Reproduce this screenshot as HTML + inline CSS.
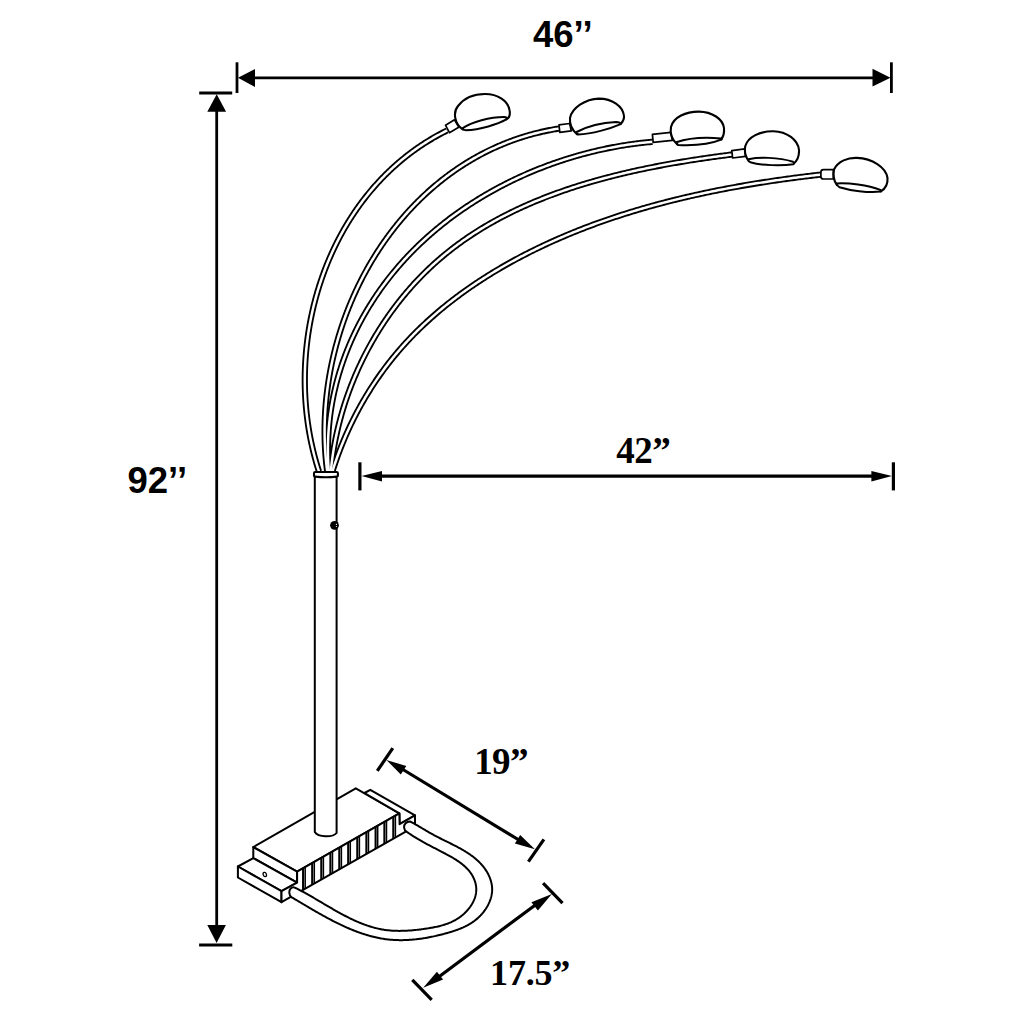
<!DOCTYPE html>
<html><head><meta charset="utf-8"><style>
html,body{margin:0;padding:0;background:#fff;width:1024px;height:1024px;overflow:hidden}
svg{display:block}
</style></head><body>
<svg width="1024" height="1024" viewBox="0 0 1024 1024">
<rect width="1024" height="1024" fill="#fff"/>
<line x1="237" y1="62.3" x2="237" y2="93" stroke="#000" stroke-width="2.8" fill="none"/><line x1="891.4" y1="62.3" x2="891.4" y2="93" stroke="#000" stroke-width="2.8" fill="none"/><line x1="250" y1="77.8" x2="878" y2="77.8" stroke="#000" stroke-width="2.8" fill="none"/><polygon points="238,77.8 255,68.9 255,86.9" fill="#000"/><polygon points="890.5,77.8 872.5,68.8 872.5,86.6" fill="#000"/><line x1="199.2" y1="93" x2="232.2" y2="93" stroke="#000" stroke-width="2.8" fill="none"/><line x1="199.1" y1="945" x2="232.3" y2="945" stroke="#000" stroke-width="2.8" fill="none"/><line x1="216.7" y1="106" x2="216.7" y2="930" stroke="#000" stroke-width="2.8" fill="none"/><polygon points="216.7,94.2 207.3,111.8 226.1,111.8" fill="#000"/><polygon points="216.6,943 207.3,924.9 225.9,924.9" fill="#000"/><line x1="359.9" y1="462.3" x2="359.9" y2="490.4" stroke="#000" stroke-width="3.2" fill="none"/><line x1="893.4" y1="462.3" x2="893.4" y2="490.4" stroke="#000" stroke-width="3.2" fill="none"/><line x1="375" y1="476.1" x2="878" y2="476.1" stroke="#000" stroke-width="3.2" fill="none"/><polygon points="361.5,476.1 382,471.1 382,481.6" fill="#000"/><polygon points="892,476.1 871.4,471.1 871.4,481.6" fill="#000"/><line x1="392.8" y1="748.2" x2="377.3" y2="770.8" stroke="#000" stroke-width="3.2" fill="none"/><line x1="543.9" y1="839.3" x2="528.4" y2="861.6" stroke="#000" stroke-width="3.2" fill="none"/><line x1="398" y1="766.5" x2="523" y2="842.5" stroke="#000" stroke-width="3.2" fill="none"/><polygon points="386.4,759.9 406.3,766.1 400.8,774.6" fill="#000"/><polygon points="534.9,849.3 520.2,834.9 514.9,843.4" fill="#000"/><line x1="543.1" y1="883.2" x2="562.5" y2="903.1" stroke="#000" stroke-width="3.2" fill="none"/><line x1="412.3" y1="979.9" x2="431.7" y2="999.8" stroke="#000" stroke-width="3.2" fill="none"/><line x1="538" y1="903" x2="436" y2="979" stroke="#000" stroke-width="3.2" fill="none"/><polygon points="551.9,894 531.4,902.2 537.9,910.4" fill="#000"/><polygon points="423.2,987.8 436.9,971.7 443.1,979.6" fill="#000"/>
<text x="533" y="46.9" font-family="&quot;Liberation Sans&quot;, sans-serif" font-weight="bold" font-size="36.5" letter-spacing="0" fill="#000">46’’</text><text x="127.5" y="493" font-family="&quot;Liberation Sans&quot;, sans-serif" font-weight="bold" font-size="36.5" letter-spacing="0" fill="#000">92’’</text><text x="616.3" y="463" font-family="&quot;Liberation Serif&quot;, serif" font-weight="bold" font-size="37" letter-spacing="-0.5" fill="#000">42”</text><text x="474.2" y="774" font-family="&quot;Liberation Serif&quot;, serif" font-weight="bold" font-size="37" letter-spacing="-0.6" fill="#000">19”</text><text x="490.1" y="985.4" font-family="&quot;Liberation Serif&quot;, serif" font-weight="bold" font-size="36" letter-spacing="-0.2" fill="#000">17.5”</text>
<path d="M 253.3 847.1 L 297.1 871.6 L 399.4 813.4 L 355.8 788.3 Z" fill="#fff" stroke="#000" stroke-width="2" stroke-linejoin="round"/><path d="M 253.3 847.1 L 297.1 871.6 L 297.1 882.7 L 253.3 858.1 Z" fill="#fff" stroke="#000" stroke-width="2" stroke-linejoin="round"/><path d="M 253.3 858.1 L 237.9 866.5 L 281.5 891.2 L 297.1 882.7 Z" fill="#fff" stroke="#000" stroke-width="2" stroke-linejoin="round"/><path d="M 237.9 866.5 L 237.9 877.5 L 281.5 902.2 L 281.5 891.2 Z" fill="#fff" stroke="#000" stroke-width="2" stroke-linejoin="round"/><path d="M 364.5 793.0 L 370.3 789.8 L 415.0 815.4 L 399.6 824.2 L 399.4 813.4 Z" fill="#fff" stroke="#000" stroke-width="2" stroke-linejoin="round"/><path d="M 281.5 891.2 L 297.1 882.7 L 297.1 871.6 L 399.4 813.4 L 399.6 824.2 L 415.0 815.4 L 415.0 826.4 L 281.5 902.2 Z" fill="#fff" stroke="#000" stroke-width="2" stroke-linejoin="round"/><line x1="303.1" y1="868.2" x2="303.1" y2="889.9" stroke="#000" stroke-width="2.1"/><line x1="305.2" y1="867.0" x2="305.2" y2="888.7" stroke="#000" stroke-width="1.5"/><line x1="312.2" y1="863.0" x2="312.2" y2="884.8" stroke="#000" stroke-width="2.1"/><line x1="314.3" y1="861.8" x2="314.3" y2="883.6" stroke="#000" stroke-width="1.5"/><line x1="321.3" y1="857.8" x2="321.3" y2="879.6" stroke="#000" stroke-width="2.1"/><line x1="323.4" y1="856.6" x2="323.4" y2="878.4" stroke="#000" stroke-width="1.5"/><line x1="330.4" y1="852.7" x2="330.4" y2="874.4" stroke="#000" stroke-width="2.1"/><line x1="332.5" y1="851.5" x2="332.5" y2="873.2" stroke="#000" stroke-width="1.5"/><line x1="339.3" y1="847.6" x2="339.3" y2="869.4" stroke="#000" stroke-width="2.1"/><line x1="341.4" y1="846.4" x2="341.4" y2="868.2" stroke="#000" stroke-width="1.5"/><line x1="348.2" y1="842.5" x2="348.2" y2="864.3" stroke="#000" stroke-width="2.1"/><line x1="350.3" y1="841.3" x2="350.3" y2="863.1" stroke="#000" stroke-width="1.5"/><line x1="357.3" y1="837.4" x2="357.3" y2="859.2" stroke="#000" stroke-width="2.1"/><line x1="359.4" y1="836.2" x2="359.4" y2="858.0" stroke="#000" stroke-width="1.5"/><line x1="366.4" y1="832.2" x2="366.4" y2="854.0" stroke="#000" stroke-width="2.1"/><line x1="368.5" y1="831.0" x2="368.5" y2="852.8" stroke="#000" stroke-width="1.5"/><line x1="375.6" y1="826.9" x2="375.6" y2="848.8" stroke="#000" stroke-width="2.1"/><line x1="377.7" y1="825.7" x2="377.7" y2="847.6" stroke="#000" stroke-width="1.5"/><line x1="384.4" y1="821.9" x2="384.4" y2="843.8" stroke="#000" stroke-width="2.1"/><line x1="386.5" y1="820.7" x2="386.5" y2="842.6" stroke="#000" stroke-width="1.5"/><line x1="393.3" y1="816.9" x2="393.3" y2="838.7" stroke="#000" stroke-width="2.1"/><line x1="395.4" y1="815.7" x2="395.4" y2="837.5" stroke="#000" stroke-width="1.5"/><ellipse cx="264.8" cy="874.5" rx="1.6" ry="2.2" fill="#fff" stroke="#000" stroke-width="1.3" transform="rotate(-20 264.8 874.5)"/>
<path d="M 291.70 897.30 L 292.67 897.87 L 293.65 898.44 L 294.62 899.02 L 295.60 899.59 L 296.57 900.17 L 297.55 900.75 L 298.53 901.33 L 299.51 901.91 L 300.50 902.50 L 301.48 903.08 L 302.47 903.67 L 303.45 904.25 L 304.44 904.84 L 305.43 905.42 L 306.42 906.01 L 307.42 906.60 L 308.41 907.18 L 309.41 907.77 L 310.40 908.35 L 311.40 908.94 L 312.40 909.52 L 313.41 910.11 L 314.41 910.69 L 315.41 911.27 L 316.42 911.85 L 317.43 912.43 L 318.44 913.00 L 319.45 913.58 L 320.46 914.15 L 321.48 914.72 L 322.49 915.29 L 323.51 915.85 L 324.53 916.41 L 325.55 916.97 L 326.58 917.53 L 327.60 918.08 L 328.63 918.63 L 329.65 919.18 L 330.68 919.72 L 331.71 920.26 L 332.75 920.80 L 333.78 921.33 L 334.82 921.86 L 335.86 922.38 L 336.89 922.90 L 337.94 923.42 L 338.98 923.92 L 340.02 924.43 L 341.07 924.93 L 342.12 925.42 L 343.17 925.91 L 344.22 926.40 L 345.27 926.87 L 346.33 927.34 L 347.39 927.81 L 348.44 928.27 L 349.50 928.72 L 350.57 929.17 L 351.63 929.61 L 352.70 930.04 L 353.76 930.47 L 354.83 930.89 L 355.91 931.30 L 356.98 931.71 L 358.05 932.10 L 359.13 932.49 L 360.21 932.87 L 361.29 933.25 L 362.37 933.61 L 363.46 933.97 L 364.54 934.32 L 365.63 934.66 L 366.72 934.99 L 367.82 935.31 L 368.91 935.63 L 370.01 935.93 L 371.10 936.23 L 372.20 936.51 L 373.31 936.79 L 374.41 937.05 L 375.52 937.31 L 376.62 937.55 L 377.73 937.79 L 378.85 938.01 L 379.96 938.23 L 381.08 938.43 L 382.19 938.63 L 383.31 938.81 L 384.43 938.98 L 385.56 939.14 L 386.69 939.28 L 387.81 939.42 L 388.94 939.54 L 390.08 939.65 L 391.21 939.76 L 392.35 939.84 L 393.48 939.92 L 394.62 939.99 L 395.76 940.04 L 396.91 940.08 L 398.05 940.12 L 399.20 940.14 L 400.34 940.15 L 401.49 940.15 L 402.64 940.14 L 403.79 940.12 L 404.94 940.09 L 406.09 940.05 L 407.25 940.00 L 408.40 939.94 L 409.55 939.87 L 410.71 939.79 L 411.86 939.70 L 413.02 939.60 L 414.17 939.49 L 415.33 939.37 L 416.48 939.25 L 417.64 939.11 L 418.80 938.97 L 419.95 938.82 L 421.11 938.66 L 422.26 938.49 L 423.42 938.31 L 424.57 938.13 L 425.72 937.93 L 426.88 937.73 L 428.03 937.52 L 429.18 937.31 L 430.33 937.09 L 431.48 936.85 L 432.63 936.62 L 433.77 936.37 L 434.92 936.12 L 436.06 935.86 L 437.21 935.59 L 438.35 935.32 L 439.49 935.04 L 440.62 934.76 L 441.76 934.47 L 442.90 934.17 L 444.03 933.87 L 445.16 933.56 L 446.29 933.25 L 447.41 932.93 L 448.54 932.60 L 449.66 932.27 L 450.78 931.93 L 451.89 931.58 L 453.00 931.23 L 454.10 930.87 L 455.20 930.49 L 456.30 930.11 L 457.39 929.72 L 458.47 929.31 L 459.55 928.89 L 460.62 928.47 L 461.68 928.02 L 462.73 927.57 L 463.77 927.09 L 464.81 926.61 L 465.83 926.11 L 466.85 925.59 L 467.85 925.05 L 468.85 924.50 L 469.83 923.93 L 470.80 923.33 L 471.76 922.72 L 472.71 922.09 L 473.65 921.44 L 474.57 920.77 L 475.47 920.07 L 476.36 919.35 L 477.24 918.61 L 478.11 917.85 L 478.95 917.06 L 479.78 916.24 L 480.59 915.41 L 481.39 914.55 L 482.16 913.67 L 482.91 912.77 L 483.65 911.85 L 484.35 910.91 L 485.04 909.96 L 485.70 908.99 L 486.33 908.00 L 486.94 907.00 L 487.52 905.98 L 488.07 904.96 L 488.59 903.92 L 489.07 902.86 L 489.53 901.80 L 489.95 900.73 L 490.34 899.65 L 490.70 898.57 L 491.02 897.48 L 491.30 896.38 L 491.54 895.27 L 491.74 894.17 L 491.91 893.06 L 492.03 891.94 L 492.11 890.83 L 492.15 889.72 L 492.14 888.61 L 492.09 887.49 L 491.99 886.38 L 491.85 885.28 L 491.67 884.18 L 491.45 883.08 L 491.19 881.99 L 490.90 880.90 L 490.56 879.83 L 490.19 878.76 L 489.79 877.70 L 489.35 876.65 L 488.89 875.61 L 488.39 874.58 L 487.86 873.56 L 487.31 872.56 L 486.72 871.57 L 486.12 870.60 L 485.48 869.64 L 484.83 868.69 L 484.15 867.77 L 483.46 866.86 L 482.74 865.97 L 482.01 865.10 L 481.25 864.25 L 480.48 863.41 L 479.69 862.59 L 478.89 861.79 L 478.07 861.00 L 477.23 860.23 L 476.38 859.47 L 475.51 858.72 L 474.63 857.99 L 473.73 857.28 L 472.83 856.58 L 471.90 855.88 L 470.97 855.21 L 470.03 854.54 L 469.07 853.88 L 468.11 853.24 L 467.13 852.60 L 466.15 851.98 L 465.15 851.36 L 464.15 850.76 L 463.14 850.16 L 462.12 849.57 L 461.10 848.99 L 460.07 848.41 L 459.03 847.84 L 457.99 847.28 L 456.95 846.73 L 455.90 846.17 L 454.84 845.63 L 453.79 845.09 L 452.73 844.55 L 451.67 844.01 L 450.60 843.48 L 449.54 842.96 L 448.48 842.43 L 447.41 841.90 L 446.35 841.38 L 445.29 840.86 L 444.23 840.34 L 443.17 839.81 L 442.12 839.29 L 441.07 838.77 L 440.02 838.24 L 438.98 837.72 L 437.94 837.19 L 436.90 836.65 L 435.88 836.12 L 434.86 835.58 L 433.84 835.04 L 432.84 834.49 L 431.84 833.94 L 430.85 833.38 L 429.86 832.82 L 428.88 832.26 L 427.90 831.69 L 426.93 831.12 L 425.96 830.56 L 424.99 829.98 L 424.02 829.41 L 423.05 828.84 L 422.09 828.26 L 421.12 827.69 L 420.15 827.12 L 419.18 826.54 L 418.21 825.97 L 417.24 825.40 L 416.26 824.84 L 415.27 824.27 L 414.28 823.71 L 413.29 823.15 L 412.28 822.59 L 411.27 822.04 L 410.25 821.50 C 406.5 821.3, 403.6 824.5, 404.1 827.6 C 404.4 829.6, 405.3 830.9, 406.2 831.4 L 406.20 831.40 L 407.06 832.01 L 407.93 832.62 L 408.79 833.21 L 409.65 833.80 L 410.50 834.37 L 411.36 834.94 L 412.22 835.50 L 413.07 836.05 L 413.93 836.59 L 414.79 837.13 L 415.64 837.66 L 416.50 838.18 L 417.35 838.69 L 418.21 839.20 L 419.07 839.71 L 419.93 840.21 L 420.79 840.70 L 421.65 841.19 L 422.51 841.67 L 423.37 842.16 L 424.24 842.63 L 425.11 843.11 L 425.98 843.58 L 426.85 844.05 L 427.73 844.52 L 428.60 844.98 L 429.48 845.45 L 430.37 845.91 L 431.26 846.38 L 432.15 846.84 L 433.04 847.30 L 433.94 847.77 L 434.84 848.23 L 435.74 848.70 L 436.65 849.17 L 437.57 849.63 L 438.49 850.11 L 439.41 850.58 L 440.34 851.06 L 441.28 851.54 L 442.21 852.02 L 443.16 852.51 L 444.10 853.01 L 445.05 853.50 L 446.00 854.01 L 446.95 854.51 L 447.89 855.03 L 448.84 855.55 L 449.78 856.07 L 450.73 856.61 L 451.66 857.15 L 452.59 857.69 L 453.52 858.25 L 454.44 858.81 L 455.35 859.38 L 456.26 859.96 L 457.15 860.55 L 458.04 861.15 L 458.91 861.76 L 459.78 862.37 L 460.63 863.00 L 461.47 863.64 L 462.29 864.29 L 463.10 864.95 L 463.89 865.63 L 464.67 866.31 L 465.42 867.01 L 466.16 867.72 L 466.88 868.44 L 467.59 869.18 L 468.26 869.93 L 468.92 870.69 L 469.56 871.47 L 470.17 872.26 L 470.76 873.07 L 471.32 873.89 L 471.86 874.73 L 472.36 875.59 L 472.85 876.45 L 473.30 877.34 L 473.72 878.23 L 474.12 879.14 L 474.48 880.05 L 474.82 880.98 L 475.12 881.91 L 475.38 882.85 L 475.62 883.80 L 475.82 884.75 L 475.98 885.71 L 476.11 886.67 L 476.21 887.63 L 476.26 888.59 L 476.28 889.56 L 476.26 890.52 L 476.20 891.48 L 476.10 892.44 L 475.97 893.40 L 475.80 894.35 L 475.59 895.30 L 475.35 896.25 L 475.07 897.19 L 474.76 898.12 L 474.42 899.05 L 474.04 899.97 L 473.64 900.88 L 473.21 901.79 L 472.75 902.68 L 472.26 903.57 L 471.74 904.44 L 471.20 905.31 L 470.63 906.17 L 470.04 907.01 L 469.42 907.84 L 468.79 908.66 L 468.13 909.46 L 467.45 910.25 L 466.75 911.03 L 466.03 911.79 L 465.29 912.53 L 464.54 913.26 L 463.77 913.97 L 462.98 914.66 L 462.18 915.34 L 461.36 915.99 L 460.54 916.63 L 459.70 917.24 L 458.85 917.84 L 457.99 918.41 L 457.12 918.97 L 456.24 919.50 L 455.35 920.01 L 454.45 920.51 L 453.54 920.98 L 452.63 921.44 L 451.71 921.87 L 450.78 922.30 L 449.84 922.70 L 448.89 923.09 L 447.94 923.46 L 446.98 923.82 L 446.01 924.16 L 445.04 924.49 L 444.07 924.80 L 443.08 925.10 L 442.09 925.39 L 441.10 925.66 L 440.10 925.93 L 439.10 926.18 L 438.09 926.42 L 437.08 926.66 L 436.07 926.88 L 435.05 927.09 L 434.03 927.30 L 433.01 927.49 L 431.98 927.68 L 430.95 927.86 L 429.92 928.04 L 428.89 928.21 L 427.86 928.37 L 426.83 928.53 L 425.79 928.68 L 424.76 928.83 L 423.72 928.98 L 422.69 929.12 L 421.65 929.26 L 420.62 929.39 L 419.58 929.52 L 418.55 929.65 L 417.51 929.77 L 416.48 929.88 L 415.44 929.99 L 414.41 930.10 L 413.37 930.20 L 412.34 930.29 L 411.31 930.38 L 410.27 930.46 L 409.24 930.53 L 408.21 930.60 L 407.18 930.66 L 406.15 930.71 L 405.12 930.76 L 404.10 930.80 L 403.07 930.83 L 402.05 930.86 L 401.02 930.87 L 400.00 930.88 L 398.98 930.88 L 397.96 930.87 L 396.94 930.85 L 395.93 930.83 L 394.91 930.79 L 393.90 930.75 L 392.89 930.69 L 391.88 930.63 L 390.87 930.55 L 389.86 930.47 L 388.86 930.37 L 387.86 930.27 L 386.86 930.15 L 385.86 930.03 L 384.87 929.89 L 383.87 929.74 L 382.88 929.58 L 381.89 929.41 L 380.91 929.23 L 379.93 929.03 L 378.94 928.83 L 377.97 928.61 L 376.99 928.39 L 376.02 928.15 L 375.04 927.91 L 374.07 927.65 L 373.11 927.38 L 372.14 927.11 L 371.18 926.82 L 370.22 926.53 L 369.26 926.23 L 368.30 925.92 L 367.35 925.60 L 366.39 925.27 L 365.44 924.93 L 364.49 924.58 L 363.54 924.23 L 362.60 923.87 L 361.65 923.50 L 360.71 923.12 L 359.77 922.74 L 358.83 922.35 L 357.90 921.95 L 356.96 921.55 L 356.03 921.14 L 355.10 920.72 L 354.17 920.30 L 353.24 919.87 L 352.31 919.43 L 351.38 918.99 L 350.46 918.54 L 349.54 918.09 L 348.61 917.63 L 347.69 917.17 L 346.78 916.71 L 345.86 916.24 L 344.94 915.76 L 344.03 915.28 L 343.11 914.80 L 342.20 914.31 L 341.29 913.82 L 340.38 913.32 L 339.47 912.82 L 338.56 912.32 L 337.65 911.82 L 336.75 911.31 L 335.84 910.80 L 334.94 910.29 L 334.04 909.77 L 333.13 909.26 L 332.23 908.74 L 331.33 908.22 L 330.43 907.70 L 329.53 907.17 L 328.64 906.65 L 327.74 906.12 L 326.84 905.60 L 325.95 905.07 L 325.05 904.54 L 324.16 904.02 L 323.26 903.49 L 322.37 902.96 L 321.48 902.43 L 320.59 901.91 L 319.69 901.38 L 318.80 900.85 L 317.91 900.33 L 317.02 899.81 L 316.13 899.28 L 315.24 898.76 L 314.35 898.24 L 313.46 897.73 L 312.57 897.21 L 311.68 896.70 L 310.80 896.19 L 309.91 895.68 L 309.02 895.17 L 308.13 894.67 L 307.24 894.17 L 306.35 893.67 L 305.47 893.18 L 304.58 892.69 L 303.69 892.21 L 302.80 891.73 L 301.91 891.25 L 301.03 890.77 L 300.14 890.31 L 299.25 889.84 L 298.36 889.38 L 297.47 888.93 L 296.58 888.48 L 295.69 888.04 L 294.80 887.60 C 291.5 886.5, 289 889.5, 289.3 892.8 C 289.5 895, 290.6 896.7, 291.7 897.3 Z" fill="#fff" stroke="#000" stroke-width="2" stroke-linejoin="round"/>
<path d="M 314.8 476 L 314.8 832 C 318 837.5, 333 837.5, 336.6 833 L 336.6 476 Z" fill="#fff" stroke="#000" stroke-width="2"/>
<path d="M 319.00 471.50 L 318.70 470.56 L 318.40 469.63 L 318.10 468.69 L 317.81 467.76 L 317.52 466.82 L 317.23 465.88 L 316.95 464.94 L 316.67 464.00 L 316.40 463.06 L 316.12 462.11 L 315.86 461.17 L 315.59 460.22 L 315.33 459.27 L 315.07 458.32 L 314.81 457.38 L 314.56 456.43 L 314.31 455.47 L 314.06 454.52 L 313.82 453.57 L 313.58 452.61 L 313.34 451.66 L 313.11 450.70 L 312.88 449.74 L 312.65 448.79 L 312.43 447.83 L 312.21 446.87 L 311.99 445.90 L 311.78 444.94 L 311.57 443.98 L 311.36 443.02 L 311.15 442.05 L 310.95 441.09 L 310.76 440.12 L 310.56 439.15 L 310.37 438.18 L 310.18 437.22 L 310.00 436.25 L 309.82 435.28 L 309.64 434.30 L 309.46 433.33 L 309.29 432.36 L 309.12 431.39 L 308.96 430.41 L 308.80 429.44 L 308.64 428.46 L 308.48 427.48 L 308.33 426.51 L 308.18 425.53 L 308.03 424.55 L 307.89 423.57 L 307.75 422.59 L 307.62 421.61 L 307.48 420.63 L 307.35 419.65 L 307.23 418.67 L 307.10 417.69 L 306.98 416.70 L 306.87 415.72 L 306.75 414.74 L 306.64 413.75 L 306.53 412.77 L 306.43 411.78 L 306.33 410.80 L 306.23 409.81 L 306.14 408.82 L 306.05 407.83 L 305.96 406.85 L 305.87 405.86 L 305.79 404.87 L 305.71 403.88 L 305.64 402.89 L 305.57 401.90 L 305.50 400.91 L 305.43 399.92 L 305.37 398.93 L 305.31 397.94 L 305.26 396.95 L 305.20 395.96 L 305.15 394.96 L 305.11 393.97 L 305.06 392.98 L 305.02 391.99 L 304.99 390.99 L 304.95 390.00 L 304.92 389.01 L 304.90 388.01 L 304.87 387.02 L 304.85 386.02 L 304.83 385.03 L 304.82 384.04 L 304.81 383.04 L 304.80 382.05 L 304.80 381.05 L 304.79 380.06 L 304.80 379.06 L 304.80 378.07 L 304.81 377.07 L 304.82 376.08 L 304.83 375.08 L 304.85 374.09 L 304.87 373.09 L 304.89 372.10 L 304.92 371.10 L 304.95 370.11 L 304.98 369.11 L 305.02 368.12 L 305.06 367.12 L 305.10 366.13 L 305.15 365.13 L 305.20 364.14 L 305.25 363.14 L 305.30 362.15 L 305.36 361.15 L 305.42 360.16 L 305.49 359.17 L 305.56 358.17 L 305.63 357.18 L 305.70 356.18 L 305.78 355.19 L 305.86 354.20 L 305.94 353.21 L 306.03 352.21 L 306.12 351.22 L 306.21 350.23 L 306.31 349.24 L 306.41 348.25 L 306.51 347.25 L 306.62 346.26 L 306.73 345.27 L 306.84 344.28 L 306.95 343.29 L 307.07 342.30 L 307.19 341.31 L 307.32 340.33 L 307.44 339.34 L 307.57 338.35 L 307.71 337.36 L 307.84 336.37 L 307.98 335.39 L 308.13 334.40 L 308.27 333.42 L 308.42 332.43 L 308.58 331.45 L 308.73 330.46 L 308.89 329.48 L 309.05 328.50 L 309.22 327.51 L 309.39 326.53 L 309.56 325.55 L 309.73 324.57 L 309.91 323.59 L 310.09 322.61 L 310.27 321.63 L 310.46 320.65 L 310.65 319.67 L 310.84 318.70 L 311.04 317.72 L 311.24 316.75 L 311.44 315.77 L 311.65 314.80 L 311.85 313.82 L 312.07 312.85 L 312.28 311.88 L 312.50 310.91 L 312.72 309.94 L 312.94 308.97 L 313.17 308.00 L 313.40 307.03 L 313.63 306.06 L 313.87 305.10 L 314.11 304.13 L 314.35 303.17 L 314.60 302.20 L 314.85 301.24 L 315.10 300.28 L 315.35 299.32 L 315.61 298.36 L 315.87 297.40 L 316.14 296.44 L 316.40 295.48 L 316.67 294.52 L 316.95 293.57 L 317.22 292.61 L 317.50 291.66 L 317.78 290.71 L 318.07 289.76 L 318.36 288.81 L 318.65 287.86 L 318.95 286.91 L 319.24 285.96 L 319.54 285.02 L 319.85 284.07 L 320.16 283.13 L 320.47 282.18 L 320.78 281.24 L 321.10 280.30 L 321.41 279.36 L 321.74 278.42 L 322.06 277.49 L 322.39 276.55 L 322.72 275.62 L 323.06 274.68 L 323.39 273.75 L 323.74 272.82 L 324.08 271.89 L 324.43 270.96 L 324.78 270.03 L 325.13 269.11 L 325.48 268.18 L 325.84 267.26 L 326.21 266.34 L 326.57 265.42 L 326.94 264.50 L 327.31 263.58 L 327.68 262.67 L 328.06 261.75 L 328.44 260.84 L 328.82 259.93 L 329.21 259.01 L 329.60 258.11 L 329.99 257.20 L 330.39 256.29 L 330.79 255.39 L 331.19 254.48 L 331.59 253.58 L 332.00 252.68 L 332.41 251.78 L 332.82 250.89 L 333.24 249.99 L 333.66 249.10 L 334.08 248.20 L 334.51 247.31 L 334.94 246.42 L 335.37 245.53 L 335.80 244.65 L 336.24 243.76 L 336.68 242.88 L 337.13 242.00 L 337.57 241.12 L 338.02 240.24 L 338.47 239.37 L 338.93 238.49 L 339.39 237.62 L 339.85 236.75 L 340.32 235.88 L 340.78 235.01 L 341.25 234.15 L 341.73 233.28 L 342.20 232.42 L 342.68 231.56 L 343.17 230.70 L 343.65 229.85 L 344.14 228.99 L 344.63 228.14 L 345.13 227.29 L 345.63 226.44 L 346.13 225.59 L 346.63 224.75 L 347.14 223.90 L 347.65 223.06 L 348.16 222.22 L 348.68 221.38 L 349.19 220.55 L 349.72 219.71 L 350.24 218.88 L 350.77 218.05 L 351.30 217.23 L 351.83 216.40 L 352.37 215.58 L 352.91 214.76 L 353.45 213.94 L 354.00 213.12 L 354.54 212.30 L 355.09 211.49 L 355.65 210.68 L 356.21 209.87 L 356.77 209.06 L 357.33 208.26 L 357.90 207.46 L 358.47 206.66 L 359.04 205.86 L 359.61 205.06 L 360.19 204.27 L 360.77 203.48 L 361.36 202.69 L 361.94 201.90 L 362.53 201.12 L 363.13 200.34 L 363.72 199.56 L 364.32 198.78 L 364.92 198.00 L 365.53 197.23 L 366.13 196.46 L 366.74 195.69 L 367.36 194.92 L 367.97 194.16 L 368.59 193.40 L 369.22 192.64 L 369.84 191.88 L 370.47 191.13 L 371.10 190.38 L 371.73 189.63 L 372.37 188.88 L 373.01 188.14 L 373.65 187.40 L 374.30 186.66 L 374.95 185.92 L 375.60 185.19 L 376.25 184.45 L 376.91 183.73 L 377.57 183.00 L 378.24 182.27 L 378.90 181.55 L 379.57 180.83 L 380.24 180.12 L 380.92 179.40 L 381.60 178.69 L 382.28 177.98 L 382.96 177.28 L 383.65 176.58 L 384.34 175.88 L 385.03 175.18 L 385.72 174.48 L 386.42 173.79 L 387.12 173.10 L 387.83 172.41 L 388.54 171.73 L 389.25 171.05 L 389.96 170.37 L 390.67 169.70 L 391.39 169.02 L 392.11 168.35 L 392.84 167.69 L 393.57 167.02 L 394.30 166.36 L 395.03 165.70 L 395.77 165.05 L 396.51 164.39 L 397.25 163.74 L 397.99 163.10 L 398.74 162.45 L 399.49 161.81 L 400.24 161.17 L 401.00 160.54 L 401.76 159.90 L 402.52 159.27 L 403.29 158.65 L 404.05 158.02 L 404.83 157.40 L 405.60 156.79 L 406.38 156.17 L 407.16 155.56 L 407.94 154.95 L 408.72 154.35 L 409.51 153.75 L 410.30 153.15 L 411.10 152.55 L 411.89 151.96 L 412.69 151.37 L 413.49 150.78 L 414.30 150.20 L 415.11 149.62 L 415.92 149.04 L 416.73 148.47 L 417.55 147.90 L 418.37 147.33 L 419.19 146.77 L 420.02 146.21 L 420.84 145.65 L 421.68 145.10 L 422.51 144.55 L 423.35 144.00 L 424.19 143.46 L 425.03 142.91 L 425.87 142.38 L 426.72 141.84 L 427.57 141.31 L 428.43 140.79 L 429.28 140.26 L 430.14 139.74 L 431.01 139.22 L 431.87 138.71 L 432.74 138.20 L 433.61 137.69 L 434.48 137.19 L 435.36 136.69 L 436.24 136.19 L 437.12 135.70 L 438.01 135.21 L 438.90 134.73 L 439.79 134.24 L 440.68 133.76 L 441.58 133.29 L 442.48 132.82 L 443.38 132.35 L 444.28 131.89 L 445.19 131.42 L 446.10 130.97 L 447.02 130.51" stroke="#000" stroke-width="6.2" fill="none" stroke-linejoin="round"/><path d="M 327.22 471.50 L 327.07 470.37 L 326.93 469.24 L 326.79 468.11 L 326.66 466.99 L 326.53 465.86 L 326.40 464.73 L 326.28 463.59 L 326.16 462.46 L 326.05 461.33 L 325.94 460.20 L 325.84 459.07 L 325.74 457.93 L 325.64 456.80 L 325.55 455.66 L 325.46 454.53 L 325.38 453.39 L 325.30 452.26 L 325.23 451.12 L 325.16 449.98 L 325.09 448.84 L 325.03 447.71 L 324.97 446.57 L 324.92 445.43 L 324.87 444.29 L 324.82 443.15 L 324.78 442.01 L 324.74 440.87 L 324.71 439.73 L 324.68 438.59 L 324.66 437.45 L 324.64 436.31 L 324.62 435.17 L 324.61 434.02 L 324.60 432.88 L 324.60 431.74 L 324.60 430.60 L 324.60 429.46 L 324.61 428.31 L 324.62 427.17 L 324.64 426.03 L 324.66 424.89 L 324.69 423.74 L 324.72 422.60 L 324.75 421.46 L 324.79 420.31 L 324.83 419.17 L 324.87 418.03 L 324.92 416.88 L 324.98 415.74 L 325.03 414.60 L 325.10 413.46 L 325.16 412.31 L 325.23 411.17 L 325.31 410.03 L 325.38 408.88 L 325.47 407.74 L 325.55 406.60 L 325.64 405.46 L 325.74 404.32 L 325.83 403.17 L 325.94 402.03 L 326.04 400.89 L 326.15 399.75 L 326.27 398.61 L 326.38 397.47 L 326.51 396.33 L 326.63 395.19 L 326.76 394.05 L 326.90 392.91 L 327.04 391.77 L 327.18 390.63 L 327.32 389.49 L 327.47 388.36 L 327.63 387.22 L 327.78 386.08 L 327.95 384.94 L 328.11 383.81 L 328.28 382.67 L 328.46 381.54 L 328.63 380.40 L 328.81 379.27 L 329.00 378.14 L 329.19 377.00 L 329.38 375.87 L 329.58 374.74 L 329.78 373.61 L 329.98 372.48 L 330.19 371.35 L 330.41 370.22 L 330.62 369.09 L 330.84 367.96 L 331.07 366.83 L 331.29 365.71 L 331.53 364.58 L 331.76 363.45 L 332.00 362.33 L 332.24 361.21 L 332.49 360.08 L 332.74 358.96 L 333.00 357.84 L 333.26 356.72 L 333.52 355.60 L 333.79 354.48 L 334.06 353.36 L 334.33 352.25 L 334.61 351.13 L 334.89 350.02 L 335.17 348.90 L 335.46 347.79 L 335.76 346.68 L 336.05 345.56 L 336.35 344.45 L 336.66 343.34 L 336.97 342.24 L 337.28 341.13 L 337.59 340.02 L 337.91 338.92 L 338.23 337.81 L 338.56 336.71 L 338.89 335.61 L 339.23 334.51 L 339.56 333.41 L 339.90 332.31 L 340.25 331.21 L 340.60 330.12 L 340.95 329.02 L 341.31 327.93 L 341.67 326.84 L 342.03 325.75 L 342.40 324.66 L 342.77 323.57 L 343.14 322.48 L 343.52 321.40 L 343.90 320.31 L 344.29 319.23 L 344.68 318.15 L 345.07 317.07 L 345.47 315.99 L 345.87 314.91 L 346.27 313.83 L 346.68 312.76 L 347.09 311.69 L 347.51 310.61 L 347.93 309.54 L 348.35 308.47 L 348.77 307.41 L 349.20 306.34 L 349.63 305.28 L 350.07 304.22 L 350.51 303.15 L 350.95 302.10 L 351.40 301.04 L 351.85 299.98 L 352.31 298.93 L 352.76 297.87 L 353.23 296.82 L 353.69 295.77 L 354.16 294.73 L 354.63 293.68 L 355.11 292.64 L 355.59 291.59 L 356.07 290.55 L 356.55 289.51 L 357.04 288.48 L 357.54 287.44 L 358.03 286.41 L 358.53 285.38 L 359.04 284.35 L 359.54 283.32 L 360.06 282.29 L 360.57 281.27 L 361.09 280.25 L 361.61 279.23 L 362.13 278.21 L 362.66 277.19 L 363.19 276.18 L 363.73 275.16 L 364.26 274.15 L 364.81 273.15 L 365.35 272.14 L 365.90 271.14 L 366.45 270.13 L 367.01 269.13 L 367.57 268.14 L 368.13 267.14 L 368.69 266.15 L 369.26 265.15 L 369.84 264.17 L 370.41 263.18 L 370.99 262.19 L 371.57 261.21 L 372.16 260.23 L 372.75 259.25 L 373.34 258.28 L 373.94 257.30 L 374.54 256.33 L 375.14 255.36 L 375.75 254.40 L 376.36 253.43 L 376.97 252.47 L 377.59 251.51 L 378.21 250.55 L 378.83 249.60 L 379.46 248.65 L 380.08 247.70 L 380.72 246.75 L 381.35 245.80 L 381.99 244.86 L 382.64 243.92 L 383.28 242.98 L 383.93 242.05 L 384.58 241.11 L 385.24 240.18 L 385.90 239.26 L 386.56 238.33 L 387.23 237.41 L 387.90 236.49 L 388.57 235.57 L 389.24 234.66 L 389.92 233.75 L 390.61 232.84 L 391.29 231.93 L 391.98 231.03 L 392.67 230.13 L 393.37 229.23 L 394.06 228.33 L 394.77 227.44 L 395.47 226.55 L 396.18 225.67 L 396.89 224.78 L 397.60 223.90 L 398.32 223.02 L 399.04 222.15 L 399.76 221.27 L 400.49 220.40 L 401.22 219.54 L 401.95 218.67 L 402.69 217.81 L 403.43 216.95 L 404.17 216.10 L 404.92 215.25 L 405.67 214.40 L 406.42 213.55 L 407.18 212.71 L 407.93 211.87 L 408.70 211.03 L 409.46 210.20 L 410.23 209.37 L 411.00 208.54 L 411.77 207.71 L 412.55 206.89 L 413.33 206.08 L 414.11 205.26 L 414.90 204.45 L 415.69 203.64 L 416.48 202.83 L 417.28 202.03 L 418.07 201.23 L 418.88 200.44 L 419.68 199.65 L 420.49 198.86 L 421.30 198.07 L 422.11 197.29 L 422.93 196.51 L 423.75 195.73 L 424.57 194.96 L 425.40 194.19 L 426.23 193.43 L 427.06 192.66 L 427.89 191.91 L 428.73 191.15 L 429.57 190.40 L 430.42 189.65 L 431.26 188.91 L 432.11 188.16 L 432.97 187.43 L 433.82 186.69 L 434.68 185.96 L 435.54 185.24 L 436.41 184.51 L 437.28 183.79 L 438.15 183.08 L 439.02 182.36 L 439.90 181.65 L 440.78 180.95 L 441.66 180.25 L 442.54 179.55 L 443.43 178.86 L 444.32 178.16 L 445.22 177.48 L 446.11 176.80 L 447.01 176.12 L 447.92 175.44 L 448.82 174.77 L 449.73 174.10 L 450.64 173.44 L 451.55 172.78 L 452.47 172.12 L 453.39 171.47 L 454.31 170.82 L 455.24 170.18 L 456.17 169.54 L 457.10 168.90 L 458.03 168.27 L 458.97 167.64 L 459.91 167.01 L 460.85 166.39 L 461.80 165.78 L 462.75 165.16 L 463.70 164.55 L 464.65 163.95 L 465.61 163.35 L 466.57 162.75 L 467.53 162.16 L 468.50 161.57 L 469.46 160.99 L 470.44 160.41 L 471.41 159.83 L 472.38 159.26 L 473.36 158.70 L 474.35 158.13 L 475.33 157.57 L 476.32 157.02 L 477.31 156.47 L 478.30 155.92 L 479.30 155.38 L 480.29 154.85 L 481.29 154.31 L 482.30 153.78 L 483.30 153.26 L 484.31 152.74 L 485.33 152.22 L 486.34 151.71 L 487.36 151.21 L 488.38 150.70 L 489.40 150.21 L 490.42 149.71 L 491.45 149.23 L 492.48 148.74 L 493.52 148.26 L 494.55 147.79 L 495.59 147.32 L 496.63 146.85 L 497.68 146.39 L 498.72 145.93 L 499.77 145.48 L 500.82 145.03 L 501.88 144.59 L 502.93 144.15 L 503.99 143.72 L 505.06 143.29 L 506.12 142.86 L 507.19 142.44 L 508.26 142.03 L 509.33 141.62 L 510.41 141.21 L 511.48 140.81 L 512.56 140.42 L 513.65 140.03 L 514.73 139.64 L 515.82 139.26 L 516.91 138.88 L 518.01 138.51 L 519.10 138.14 L 520.20 137.78 L 521.30 137.43 L 522.40 137.07 L 523.51 136.73 L 524.62 136.38 L 525.73 136.05 L 526.84 135.72 L 527.96 135.39 L 529.08 135.07 L 530.20 134.75 L 531.32 134.44 L 532.45 134.13 L 533.58 133.83 L 534.71 133.53 L 535.84 133.24 L 536.98 132.96 L 538.12 132.67 L 539.26 132.40 L 540.40 132.13 L 541.55 131.86 L 542.69 131.60 L 543.84 131.35 L 545.00 131.10 L 546.15 130.85 L 547.31 130.61 L 548.47 130.38 L 549.63 130.15 L 550.80 129.93 L 551.97 129.71 L 553.14 129.49 L 554.31 129.29 L 555.48 129.09 L 556.66 128.89 L 557.84 128.70 L 559.02 128.51" stroke="#000" stroke-width="6.2" fill="none" stroke-linejoin="round"/><path d="M 328.82 471.53 L 328.72 470.19 L 328.62 468.85 L 328.52 467.52 L 328.44 466.18 L 328.36 464.85 L 328.28 463.52 L 328.22 462.19 L 328.16 460.86 L 328.11 459.53 L 328.06 458.20 L 328.02 456.88 L 327.99 455.55 L 327.96 454.23 L 327.94 452.91 L 327.93 451.59 L 327.92 450.27 L 327.92 448.95 L 327.93 447.63 L 327.94 446.32 L 327.96 445.00 L 327.99 443.69 L 328.02 442.38 L 328.06 441.07 L 328.11 439.76 L 328.16 438.45 L 328.22 437.15 L 328.28 435.84 L 328.35 434.54 L 328.43 433.24 L 328.51 431.94 L 328.60 430.64 L 328.70 429.34 L 328.80 428.05 L 328.91 426.75 L 329.03 425.46 L 329.15 424.17 L 329.28 422.88 L 329.41 421.59 L 329.55 420.30 L 329.70 419.02 L 329.85 417.73 L 330.01 416.45 L 330.17 415.17 L 330.34 413.89 L 330.52 412.62 L 330.71 411.34 L 330.89 410.07 L 331.09 408.80 L 331.29 407.53 L 331.50 406.26 L 331.71 404.99 L 331.93 403.73 L 332.16 402.46 L 332.39 401.20 L 332.63 399.94 L 332.87 398.68 L 333.12 397.43 L 333.37 396.17 L 333.63 394.92 L 333.90 393.67 L 334.17 392.42 L 334.45 391.17 L 334.74 389.93 L 335.03 388.68 L 335.32 387.44 L 335.62 386.20 L 335.93 384.97 L 336.24 383.73 L 336.56 382.50 L 336.89 381.26 L 337.22 380.03 L 337.55 378.81 L 337.90 377.58 L 338.24 376.36 L 338.60 375.13 L 338.95 373.91 L 339.32 372.70 L 339.69 371.48 L 340.06 370.27 L 340.44 369.05 L 340.83 367.84 L 341.22 366.64 L 341.62 365.43 L 342.02 364.23 L 342.43 363.03 L 342.84 361.83 L 343.26 360.63 L 343.69 359.44 L 344.12 358.24 L 344.55 357.05 L 344.99 355.86 L 345.44 354.68 L 345.89 353.49 L 346.35 352.31 L 346.81 351.13 L 347.28 349.96 L 347.75 348.78 L 348.23 347.61 L 348.71 346.44 L 349.20 345.27 L 349.69 344.10 L 350.19 342.94 L 350.70 341.78 L 351.21 340.62 L 351.72 339.47 L 352.24 338.31 L 352.76 337.16 L 353.29 336.01 L 353.83 334.86 L 354.37 333.72 L 354.91 332.58 L 355.46 331.44 L 356.02 330.30 L 356.58 329.17 L 357.14 328.04 L 357.71 326.91 L 358.29 325.78 L 358.87 324.66 L 359.45 323.53 L 360.04 322.41 L 360.64 321.30 L 361.24 320.18 L 361.84 319.07 L 362.45 317.96 L 363.06 316.86 L 363.68 315.75 L 364.31 314.65 L 364.93 313.55 L 365.57 312.46 L 366.20 311.36 L 366.85 310.27 L 367.49 309.19 L 368.15 308.10 L 368.80 307.02 L 369.46 305.94 L 370.13 304.86 L 370.80 303.79 L 371.48 302.72 L 372.16 301.65 L 372.84 300.58 L 373.53 299.52 L 374.22 298.46 L 374.92 297.40 L 375.62 296.35 L 376.33 295.30 L 377.04 294.25 L 377.76 293.20 L 378.48 292.16 L 379.21 291.12 L 379.93 290.08 L 380.67 289.05 L 381.41 288.02 L 382.15 286.99 L 382.90 285.97 L 383.65 284.94 L 384.40 283.92 L 385.16 282.91 L 385.93 281.89 L 386.70 280.88 L 387.47 279.88 L 388.25 278.87 L 389.03 277.87 L 389.81 276.87 L 390.60 275.88 L 391.40 274.89 L 392.20 273.90 L 393.00 272.91 L 393.80 271.93 L 394.62 270.95 L 395.43 269.97 L 396.25 269.00 L 397.07 268.03 L 397.90 267.07 L 398.73 266.10 L 399.57 265.14 L 400.40 264.18 L 401.25 263.23 L 402.09 262.28 L 402.95 261.33 L 403.80 260.39 L 404.66 259.45 L 405.52 258.51 L 406.39 257.58 L 407.26 256.65 L 408.13 255.72 L 409.01 254.80 L 409.89 253.88 L 410.78 252.96 L 411.67 252.04 L 412.56 251.13 L 413.46 250.23 L 414.36 249.32 L 415.27 248.42 L 416.18 247.53 L 417.09 246.63 L 418.00 245.74 L 418.92 244.86 L 419.85 243.97 L 420.77 243.09 L 421.70 242.22 L 422.64 241.35 L 423.58 240.48 L 424.52 239.61 L 425.46 238.75 L 426.41 237.89 L 427.36 237.03 L 428.32 236.18 L 429.28 235.33 L 430.24 234.49 L 431.20 233.65 L 432.17 232.81 L 433.14 231.97 L 434.12 231.14 L 435.10 230.31 L 436.08 229.49 L 437.06 228.67 L 438.05 227.85 L 439.05 227.04 L 440.04 226.23 L 441.04 225.42 L 442.04 224.62 L 443.04 223.82 L 444.05 223.02 L 445.06 222.23 L 446.08 221.44 L 447.09 220.66 L 448.11 219.87 L 449.14 219.10 L 450.16 218.32 L 451.19 217.55 L 452.23 216.78 L 453.26 216.02 L 454.30 215.26 L 455.34 214.50 L 456.38 213.75 L 457.43 213.00 L 458.48 212.25 L 459.53 211.51 L 460.59 210.77 L 461.65 210.03 L 462.71 209.30 L 463.77 208.58 L 464.84 207.85 L 465.91 207.13 L 466.98 206.41 L 468.05 205.70 L 469.13 204.99 L 470.21 204.28 L 471.30 203.58 L 472.38 202.88 L 473.47 202.19 L 474.56 201.49 L 475.65 200.81 L 476.75 200.12 L 477.85 199.44 L 478.95 198.76 L 480.05 198.09 L 481.16 197.42 L 482.26 196.75 L 483.37 196.09 L 484.49 195.43 L 485.60 194.78 L 486.72 194.13 L 487.84 193.48 L 488.96 192.83 L 490.09 192.19 L 491.22 191.56 L 492.34 190.93 L 493.48 190.30 L 494.61 189.67 L 495.75 189.05 L 496.88 188.43 L 498.02 187.82 L 499.17 187.21 L 500.31 186.60 L 501.46 186.00 L 502.61 185.40 L 503.76 184.80 L 504.91 184.21 L 506.07 183.62 L 507.22 183.04 L 508.38 182.46 L 509.54 181.88 L 510.71 181.31 L 511.87 180.74 L 513.04 180.18 L 514.21 179.62 L 515.38 179.06 L 516.55 178.50 L 517.73 177.95 L 518.90 177.41 L 520.08 176.87 L 521.26 176.33 L 522.44 175.79 L 523.62 175.26 L 524.81 174.74 L 526.00 174.21 L 527.18 173.69 L 528.37 173.18 L 529.57 172.67 L 530.76 172.16 L 531.96 171.66 L 533.15 171.16 L 534.35 170.66 L 535.55 170.17 L 536.75 169.68 L 537.95 169.20 L 539.16 168.71 L 540.36 168.24 L 541.57 167.77 L 542.78 167.30 L 543.99 166.83 L 545.20 166.37 L 546.41 165.91 L 547.63 165.46 L 548.84 165.01 L 550.06 164.57 L 551.28 164.12 L 552.50 163.69 L 553.72 163.25 L 554.94 162.82 L 556.17 162.40 L 557.39 161.98 L 558.62 161.56 L 559.84 161.15 L 561.07 160.74 L 562.30 160.33 L 563.53 159.93 L 564.76 159.53 L 565.99 159.14 L 567.23 158.75 L 568.46 158.36 L 569.70 157.98 L 570.93 157.60 L 572.17 157.23 L 573.41 156.86 L 574.65 156.49 L 575.89 156.13 L 577.13 155.77 L 578.37 155.42 L 579.61 155.07 L 580.86 154.72 L 582.10 154.38 L 583.35 154.04 L 584.59 153.71 L 585.84 153.38 L 587.09 153.05 L 588.34 152.73 L 589.59 152.42 L 590.84 152.10 L 592.09 151.79 L 593.34 151.49 L 594.59 151.19 L 595.84 150.89 L 597.09 150.60 L 598.35 150.31 L 599.60 150.02 L 600.85 149.74 L 602.11 149.47 L 603.37 149.19 L 604.62 148.92 L 605.88 148.66 L 607.13 148.40 L 608.39 148.14 L 609.65 147.89 L 610.91 147.65 L 612.17 147.40 L 613.42 147.16 L 614.68 146.93 L 615.94 146.70 L 617.20 146.47 L 618.46 146.25 L 619.72 146.03 L 620.98 145.81 L 622.24 145.60 L 623.50 145.40 L 624.76 145.19 L 626.02 145.00 L 627.29 144.80 L 628.55 144.61 L 629.81 144.43 L 631.07 144.25 L 632.33 144.07 L 633.59 143.90 L 634.85 143.73 L 636.11 143.56 L 637.38 143.40 L 638.64 143.25 L 639.90 143.10 L 641.16 142.95 L 642.42 142.81 L 643.68 142.67 L 644.94 142.53 L 646.20 142.40 L 647.46 142.28 L 648.72 142.16 L 649.98 142.04 L 651.24 141.92 L 652.50 141.82" stroke="#000" stroke-width="6.2" fill="none" stroke-linejoin="round"/><path d="M 330.81 471.51 L 330.94 470.11 L 331.07 468.71 L 331.22 467.31 L 331.37 465.92 L 331.53 464.52 L 331.69 463.12 L 331.86 461.73 L 332.04 460.33 L 332.22 458.94 L 332.41 457.54 L 332.60 456.15 L 332.81 454.76 L 333.01 453.36 L 333.23 451.97 L 333.45 450.58 L 333.68 449.20 L 333.91 447.81 L 334.15 446.42 L 334.40 445.04 L 334.65 443.65 L 334.91 442.27 L 335.17 440.88 L 335.44 439.50 L 335.72 438.12 L 336.01 436.74 L 336.30 435.37 L 336.59 433.99 L 336.89 432.61 L 337.20 431.24 L 337.52 429.87 L 337.84 428.49 L 338.16 427.12 L 338.50 425.76 L 338.83 424.39 L 339.18 423.02 L 339.53 421.66 L 339.89 420.29 L 340.25 418.93 L 340.62 417.57 L 340.99 416.21 L 341.37 414.86 L 341.76 413.50 L 342.15 412.15 L 342.55 410.80 L 342.95 409.45 L 343.36 408.10 L 343.78 406.75 L 344.20 405.41 L 344.63 404.06 L 345.06 402.72 L 345.50 401.38 L 345.95 400.04 L 346.40 398.71 L 346.86 397.38 L 347.32 396.04 L 347.79 394.71 L 348.26 393.39 L 348.74 392.06 L 349.23 390.74 L 349.72 389.42 L 350.21 388.10 L 350.72 386.78 L 351.22 385.46 L 351.74 384.15 L 352.26 382.84 L 352.78 381.53 L 353.31 380.23 L 353.85 378.92 L 354.39 377.62 L 354.94 376.32 L 355.49 375.02 L 356.05 373.73 L 356.61 372.44 L 357.18 371.15 L 357.75 369.86 L 358.33 368.58 L 358.92 367.30 L 359.51 366.02 L 360.11 364.74 L 360.71 363.47 L 361.32 362.19 L 361.93 360.93 L 362.55 359.66 L 363.17 358.40 L 363.80 357.14 L 364.43 355.88 L 365.07 354.62 L 365.71 353.37 L 366.36 352.12 L 367.02 350.88 L 367.68 349.63 L 368.34 348.39 L 369.02 347.15 L 369.69 345.92 L 370.37 344.69 L 371.06 343.46 L 371.75 342.24 L 372.45 341.01 L 373.15 339.79 L 373.85 338.58 L 374.57 337.37 L 375.28 336.16 L 376.00 334.95 L 376.73 333.75 L 377.46 332.55 L 378.20 331.35 L 378.94 330.16 L 379.69 328.97 L 380.44 327.78 L 381.20 326.60 L 381.96 325.42 L 382.73 324.24 L 383.50 323.07 L 384.27 321.90 L 385.06 320.74 L 385.84 319.58 L 386.63 318.42 L 387.43 317.26 L 388.23 316.11 L 389.04 314.97 L 389.85 313.82 L 390.66 312.68 L 391.48 311.55 L 392.31 310.41 L 393.14 309.29 L 393.97 308.16 L 394.81 307.04 L 395.65 305.92 L 396.50 304.81 L 397.36 303.70 L 398.21 302.60 L 399.08 301.50 L 399.94 300.40 L 400.82 299.31 L 401.69 298.22 L 402.57 297.14 L 403.46 296.05 L 404.35 294.98 L 405.24 293.91 L 406.14 292.84 L 407.05 291.78 L 407.95 290.72 L 408.87 289.66 L 409.78 288.61 L 410.70 287.56 L 411.63 286.52 L 412.56 285.49 L 413.50 284.45 L 414.44 283.42 L 415.38 282.40 L 416.33 281.38 L 417.28 280.37 L 418.24 279.35 L 419.20 278.35 L 420.16 277.35 L 421.13 276.35 L 422.11 275.36 L 423.08 274.37 L 424.07 273.39 L 425.05 272.41 L 426.05 271.44 L 427.04 270.47 L 428.04 269.51 L 429.04 268.55 L 430.05 267.60 L 431.06 266.65 L 432.08 265.70 L 433.10 264.76 L 434.12 263.83 L 435.15 262.90 L 436.19 261.98 L 437.22 261.06 L 438.26 260.15 L 439.31 259.24 L 440.36 258.33 L 441.41 257.44 L 442.47 256.54 L 443.53 255.66 L 444.59 254.77 L 445.66 253.90 L 446.73 253.02 L 447.81 252.16 L 448.89 251.29 L 449.97 250.44 L 451.06 249.58 L 452.15 248.74 L 453.25 247.90 L 454.35 247.06 L 455.45 246.23 L 456.56 245.40 L 457.67 244.58 L 458.78 243.76 L 459.90 242.95 L 461.02 242.14 L 462.14 241.34 L 463.27 240.54 L 464.40 239.75 L 465.54 238.96 L 466.68 238.17 L 467.82 237.40 L 468.96 236.62 L 470.11 235.85 L 471.27 235.09 L 472.42 234.33 L 473.58 233.57 L 474.74 232.82 L 475.91 232.08 L 477.08 231.34 L 478.25 230.60 L 479.42 229.87 L 480.60 229.14 L 481.78 228.42 L 482.97 227.70 L 484.16 226.99 L 485.35 226.28 L 486.54 225.57 L 487.74 224.87 L 488.94 224.18 L 490.14 223.49 L 491.35 222.80 L 492.56 222.12 L 493.77 221.44 L 494.98 220.77 L 496.20 220.10 L 497.42 219.43 L 498.65 218.77 L 499.87 218.12 L 501.10 217.46 L 502.33 216.82 L 503.57 216.17 L 504.80 215.53 L 506.04 214.90 L 507.29 214.27 L 508.53 213.64 L 509.78 213.02 L 511.03 212.40 L 512.28 211.79 L 513.54 211.18 L 514.80 210.57 L 516.06 209.97 L 517.32 209.37 L 518.58 208.78 L 519.85 208.19 L 521.12 207.61 L 522.40 207.02 L 523.67 206.45 L 524.95 205.87 L 526.23 205.30 L 527.51 204.74 L 528.79 204.18 L 530.08 203.62 L 531.37 203.06 L 532.66 202.51 L 533.95 201.97 L 535.25 201.43 L 536.54 200.89 L 537.84 200.35 L 539.15 199.82 L 540.45 199.29 L 541.75 198.77 L 543.06 198.25 L 544.37 197.73 L 545.68 197.22 L 547.00 196.71 L 548.31 196.21 L 549.63 195.71 L 550.95 195.21 L 552.27 194.72 L 553.59 194.22 L 554.91 193.74 L 556.24 193.25 L 557.57 192.77 L 558.90 192.30 L 560.23 191.82 L 561.56 191.36 L 562.90 190.89 L 564.23 190.43 L 565.57 189.97 L 566.91 189.51 L 568.25 189.06 L 569.59 188.61 L 570.94 188.17 L 572.28 187.72 L 573.63 187.28 L 574.98 186.85 L 576.33 186.42 L 577.68 185.99 L 579.03 185.56 L 580.38 185.14 L 581.74 184.72 L 583.10 184.30 L 584.45 183.89 L 585.81 183.48 L 587.17 183.07 L 588.53 182.67 L 589.89 182.27 L 591.26 181.87 L 592.62 181.48 L 593.99 181.09 L 595.36 180.70 L 596.72 180.32 L 598.09 179.93 L 599.46 179.55 L 600.83 179.18 L 602.20 178.81 L 603.58 178.44 L 604.95 178.07 L 606.33 177.70 L 607.70 177.34 L 609.08 176.98 L 610.45 176.63 L 611.83 176.28 L 613.21 175.93 L 614.59 175.58 L 615.97 175.24 L 617.35 174.89 L 618.73 174.56 L 620.11 174.22 L 621.50 173.89 L 622.88 173.56 L 624.26 173.23 L 625.65 172.90 L 627.03 172.58 L 628.42 172.26 L 629.80 171.94 L 631.19 171.63 L 632.58 171.32 L 633.96 171.01 L 635.35 170.70 L 636.74 170.39 L 638.13 170.09 L 639.51 169.79 L 640.90 169.50 L 642.29 169.20 L 643.68 168.91 L 645.07 168.62 L 646.46 168.33 L 647.85 168.05 L 649.24 167.77 L 650.63 167.49 L 652.02 167.21 L 653.41 166.93 L 654.80 166.66 L 656.19 166.39 L 657.58 166.12 L 658.97 165.85 L 660.36 165.59 L 661.75 165.33 L 663.14 165.07 L 664.53 164.81 L 665.92 164.56 L 667.31 164.30 L 668.70 164.05 L 670.09 163.80 L 671.48 163.56 L 672.87 163.31 L 674.26 163.07 L 675.64 162.83 L 677.03 162.59 L 678.42 162.35 L 679.81 162.12 L 681.19 161.89 L 682.58 161.66 L 683.97 161.43 L 685.35 161.20 L 686.74 160.98 L 688.12 160.75 L 689.50 160.53 L 690.89 160.31 L 692.27 160.10 L 693.65 159.88 L 695.03 159.67 L 696.41 159.46 L 697.79 159.24 L 699.17 159.04 L 700.55 158.83 L 701.93 158.63 L 703.30 158.42 L 704.68 158.22 L 706.06 158.02 L 707.43 157.82 L 708.80 157.63 L 710.18 157.43 L 711.55 157.24 L 712.92 157.05 L 714.29 156.86 L 715.66 156.67 L 717.03 156.48 L 718.39 156.30 L 719.76 156.11 L 721.12 155.93 L 722.49 155.75 L 723.85 155.57 L 725.21 155.39 L 726.57 155.21 L 727.93 155.04 L 729.29 154.86 L 730.64 154.69 L 732.00 154.52" stroke="#000" stroke-width="6.2" fill="none" stroke-linejoin="round"/><path d="M 332.41 471.52 L 332.86 470.05 L 333.33 468.58 L 333.80 467.12 L 334.28 465.66 L 334.76 464.20 L 335.25 462.74 L 335.75 461.29 L 336.25 459.84 L 336.76 458.39 L 337.28 456.94 L 337.80 455.50 L 338.32 454.06 L 338.86 452.63 L 339.40 451.19 L 339.94 449.76 L 340.50 448.33 L 341.05 446.91 L 341.62 445.48 L 342.19 444.06 L 342.77 442.65 L 343.35 441.23 L 343.94 439.82 L 344.53 438.42 L 345.13 437.01 L 345.74 435.61 L 346.35 434.21 L 346.97 432.82 L 347.60 431.43 L 348.23 430.04 L 348.86 428.65 L 349.51 427.27 L 350.15 425.89 L 350.81 424.51 L 351.47 423.14 L 352.14 421.77 L 352.81 420.41 L 353.49 419.04 L 354.17 417.69 L 354.86 416.33 L 355.55 414.98 L 356.26 413.63 L 356.96 412.28 L 357.68 410.94 L 358.40 409.60 L 359.12 408.27 L 359.85 406.94 L 360.59 405.61 L 361.33 404.29 L 362.08 402.96 L 362.83 401.65 L 363.59 400.33 L 364.35 399.03 L 365.12 397.72 L 365.90 396.42 L 366.68 395.12 L 367.47 393.83 L 368.26 392.54 L 369.06 391.25 L 369.87 389.97 L 370.68 388.69 L 371.49 387.41 L 372.31 386.14 L 373.14 384.87 L 373.97 383.61 L 374.81 382.35 L 375.65 381.10 L 376.50 379.85 L 377.35 378.60 L 378.21 377.36 L 379.08 376.12 L 379.95 374.88 L 380.82 373.65 L 381.71 372.43 L 382.59 371.20 L 383.49 369.99 L 384.38 368.77 L 385.29 367.56 L 386.19 366.36 L 387.11 365.16 L 388.03 363.96 L 388.95 362.77 L 389.88 361.58 L 390.82 360.40 L 391.76 359.22 L 392.70 358.05 L 393.65 356.88 L 394.61 355.71 L 395.57 354.55 L 396.54 353.39 L 397.51 352.24 L 398.49 351.09 L 399.47 349.95 L 400.46 348.81 L 401.45 347.68 L 402.45 346.55 L 403.45 345.43 L 404.46 344.31 L 405.47 343.20 L 406.49 342.09 L 407.51 340.98 L 408.54 339.88 L 409.57 338.78 L 410.61 337.69 L 411.65 336.61 L 412.70 335.52 L 413.75 334.45 L 414.81 333.37 L 415.87 332.31 L 416.94 331.24 L 418.01 330.18 L 419.08 329.13 L 420.16 328.08 L 421.25 327.03 L 422.34 325.99 L 423.43 324.95 L 424.53 323.92 L 425.63 322.89 L 426.74 321.87 L 427.85 320.85 L 428.97 319.84 L 430.09 318.83 L 431.21 317.82 L 432.34 316.82 L 433.47 315.82 L 434.61 314.83 L 435.75 313.84 L 436.90 312.86 L 438.05 311.88 L 439.20 310.91 L 440.36 309.94 L 441.52 308.97 L 442.68 308.01 L 443.85 307.05 L 445.03 306.10 L 446.20 305.15 L 447.38 304.20 L 448.57 303.26 L 449.76 302.33 L 450.95 301.40 L 452.15 300.47 L 453.34 299.55 L 454.55 298.63 L 455.75 297.71 L 456.97 296.80 L 458.18 295.90 L 459.40 294.99 L 460.62 294.10 L 461.84 293.20 L 463.07 292.31 L 464.30 291.43 L 465.54 290.55 L 466.77 289.67 L 468.01 288.80 L 469.26 287.93 L 470.51 287.07 L 471.76 286.21 L 473.01 285.35 L 474.27 284.50 L 475.53 283.65 L 476.79 282.81 L 478.06 281.97 L 479.33 281.13 L 480.60 280.30 L 481.87 279.47 L 483.15 278.65 L 484.43 277.83 L 485.71 277.01 L 487.00 276.20 L 488.29 275.39 L 489.58 274.59 L 490.88 273.79 L 492.17 272.99 L 493.47 272.20 L 494.78 271.42 L 496.08 270.63 L 497.39 269.85 L 498.70 269.08 L 500.01 268.30 L 501.33 267.54 L 502.64 266.77 L 503.96 266.01 L 505.29 265.26 L 506.61 264.50 L 507.94 263.76 L 509.27 263.01 L 510.60 262.27 L 511.93 261.53 L 513.27 260.80 L 514.60 260.07 L 515.94 259.35 L 517.28 258.62 L 518.63 257.91 L 519.97 257.19 L 521.32 256.48 L 522.67 255.77 L 524.02 255.07 L 525.38 254.37 L 526.73 253.68 L 528.09 252.99 L 529.45 252.30 L 530.81 251.61 L 532.17 250.93 L 533.54 250.26 L 534.90 249.58 L 536.27 248.91 L 537.64 248.25 L 539.01 247.59 L 540.39 246.93 L 541.76 246.27 L 543.14 245.62 L 544.52 244.97 L 545.90 244.33 L 547.28 243.69 L 548.67 243.05 L 550.05 242.42 L 551.44 241.79 L 552.83 241.16 L 554.22 240.54 L 555.61 239.92 L 557.01 239.30 L 558.40 238.69 L 559.80 238.08 L 561.20 237.48 L 562.60 236.87 L 564.00 236.28 L 565.41 235.68 L 566.81 235.09 L 568.22 234.50 L 569.63 233.91 L 571.04 233.33 L 572.45 232.75 L 573.86 232.18 L 575.28 231.61 L 576.69 231.04 L 578.11 230.48 L 579.53 229.91 L 580.95 229.36 L 582.37 228.80 L 583.80 228.25 L 585.22 227.70 L 586.65 227.16 L 588.07 226.61 L 589.50 226.07 L 590.93 225.54 L 592.36 225.01 L 593.80 224.48 L 595.23 223.95 L 596.66 223.43 L 598.10 222.91 L 599.54 222.39 L 600.98 221.88 L 602.42 221.37 L 603.86 220.86 L 605.30 220.36 L 606.75 219.86 L 608.19 219.36 L 609.64 218.87 L 611.08 218.38 L 612.53 217.89 L 613.98 217.40 L 615.43 216.92 L 616.89 216.44 L 618.34 215.96 L 619.79 215.49 L 621.25 215.02 L 622.70 214.55 L 624.16 214.09 L 625.62 213.63 L 627.08 213.17 L 628.54 212.71 L 630.00 212.26 L 631.46 211.81 L 632.93 211.37 L 634.39 210.92 L 635.86 210.48 L 637.32 210.04 L 638.79 209.61 L 640.26 209.17 L 641.73 208.75 L 643.20 208.32 L 644.67 207.90 L 646.14 207.47 L 647.61 207.06 L 649.09 206.64 L 650.56 206.23 L 652.04 205.82 L 653.51 205.41 L 654.99 205.01 L 656.47 204.60 L 657.95 204.21 L 659.43 203.81 L 660.91 203.42 L 662.39 203.03 L 663.87 202.64 L 665.35 202.25 L 666.83 201.87 L 668.32 201.49 L 669.80 201.11 L 671.28 200.74 L 672.77 200.36 L 674.26 199.99 L 675.74 199.63 L 677.23 199.26 L 678.72 198.90 L 680.21 198.54 L 681.69 198.18 L 683.18 197.83 L 684.67 197.48 L 686.17 197.13 L 687.66 196.78 L 689.15 196.44 L 690.64 196.10 L 692.13 195.76 L 693.63 195.42 L 695.12 195.09 L 696.61 194.75 L 698.11 194.42 L 699.60 194.10 L 701.10 193.77 L 702.60 193.45 L 704.09 193.13 L 705.59 192.81 L 707.09 192.50 L 708.58 192.18 L 710.08 191.87 L 711.58 191.56 L 713.08 191.26 L 714.58 190.95 L 716.07 190.65 L 717.57 190.35 L 719.07 190.06 L 720.57 189.76 L 722.07 189.47 L 723.57 189.18 L 725.07 188.89 L 726.57 188.61 L 728.07 188.32 L 729.58 188.04 L 731.08 187.76 L 732.58 187.49 L 734.08 187.21 L 735.58 186.94 L 737.08 186.67 L 738.58 186.40 L 740.09 186.13 L 741.59 185.87 L 743.09 185.61 L 744.59 185.35 L 746.09 185.09 L 747.60 184.83 L 749.10 184.58 L 750.60 184.33 L 752.10 184.08 L 753.61 183.83 L 755.11 183.58 L 756.61 183.34 L 758.11 183.10 L 759.61 182.86 L 761.12 182.62 L 762.62 182.39 L 764.12 182.15 L 765.62 181.92 L 767.12 181.69 L 768.62 181.46 L 770.13 181.23 L 771.63 181.01 L 773.13 180.79 L 774.63 180.57 L 776.13 180.35 L 777.63 180.13 L 779.13 179.92 L 780.63 179.70 L 782.13 179.49 L 783.63 179.28 L 785.13 179.07 L 786.63 178.87 L 788.12 178.66 L 789.62 178.46 L 791.12 178.26 L 792.62 178.06 L 794.12 177.86 L 795.61 177.67 L 797.11 177.47 L 798.60 177.28 L 800.10 177.09 L 801.60 176.90 L 803.09 176.71 L 804.58 176.53 L 806.08 176.34 L 807.57 176.16 L 809.06 175.98 L 810.56 175.80 L 812.05 175.62 L 813.54 175.45 L 815.03 175.27 L 816.52 175.10 L 818.01 174.93 L 819.50 174.76 L 820.99 174.59" stroke="#000" stroke-width="6.2" fill="none" stroke-linejoin="round"/><path d="M 319.00 471.50 L 318.70 470.56 L 318.40 469.63 L 318.10 468.69 L 317.81 467.76 L 317.52 466.82 L 317.23 465.88 L 316.95 464.94 L 316.67 464.00 L 316.40 463.06 L 316.12 462.11 L 315.86 461.17 L 315.59 460.22 L 315.33 459.27 L 315.07 458.32 L 314.81 457.38 L 314.56 456.43 L 314.31 455.47 L 314.06 454.52 L 313.82 453.57 L 313.58 452.61 L 313.34 451.66 L 313.11 450.70 L 312.88 449.74 L 312.65 448.79 L 312.43 447.83 L 312.21 446.87 L 311.99 445.90 L 311.78 444.94 L 311.57 443.98 L 311.36 443.02 L 311.15 442.05 L 310.95 441.09 L 310.76 440.12 L 310.56 439.15 L 310.37 438.18 L 310.18 437.22 L 310.00 436.25 L 309.82 435.28 L 309.64 434.30 L 309.46 433.33 L 309.29 432.36 L 309.12 431.39 L 308.96 430.41 L 308.80 429.44 L 308.64 428.46 L 308.48 427.48 L 308.33 426.51 L 308.18 425.53 L 308.03 424.55 L 307.89 423.57 L 307.75 422.59 L 307.62 421.61 L 307.48 420.63 L 307.35 419.65 L 307.23 418.67 L 307.10 417.69 L 306.98 416.70 L 306.87 415.72 L 306.75 414.74 L 306.64 413.75 L 306.53 412.77 L 306.43 411.78 L 306.33 410.80 L 306.23 409.81 L 306.14 408.82 L 306.05 407.83 L 305.96 406.85 L 305.87 405.86 L 305.79 404.87 L 305.71 403.88 L 305.64 402.89 L 305.57 401.90 L 305.50 400.91 L 305.43 399.92 L 305.37 398.93 L 305.31 397.94 L 305.26 396.95 L 305.20 395.96 L 305.15 394.96 L 305.11 393.97 L 305.06 392.98 L 305.02 391.99 L 304.99 390.99 L 304.95 390.00 L 304.92 389.01 L 304.90 388.01 L 304.87 387.02 L 304.85 386.02 L 304.83 385.03 L 304.82 384.04 L 304.81 383.04 L 304.80 382.05 L 304.80 381.05 L 304.79 380.06 L 304.80 379.06 L 304.80 378.07 L 304.81 377.07 L 304.82 376.08 L 304.83 375.08 L 304.85 374.09 L 304.87 373.09 L 304.89 372.10 L 304.92 371.10 L 304.95 370.11 L 304.98 369.11 L 305.02 368.12 L 305.06 367.12 L 305.10 366.13 L 305.15 365.13 L 305.20 364.14 L 305.25 363.14 L 305.30 362.15 L 305.36 361.15 L 305.42 360.16 L 305.49 359.17 L 305.56 358.17 L 305.63 357.18 L 305.70 356.18 L 305.78 355.19 L 305.86 354.20 L 305.94 353.21 L 306.03 352.21 L 306.12 351.22 L 306.21 350.23 L 306.31 349.24 L 306.41 348.25 L 306.51 347.25 L 306.62 346.26 L 306.73 345.27 L 306.84 344.28 L 306.95 343.29 L 307.07 342.30 L 307.19 341.31 L 307.32 340.33 L 307.44 339.34 L 307.57 338.35 L 307.71 337.36 L 307.84 336.37 L 307.98 335.39 L 308.13 334.40 L 308.27 333.42 L 308.42 332.43 L 308.58 331.45 L 308.73 330.46 L 308.89 329.48 L 309.05 328.50 L 309.22 327.51 L 309.39 326.53 L 309.56 325.55 L 309.73 324.57 L 309.91 323.59 L 310.09 322.61 L 310.27 321.63 L 310.46 320.65 L 310.65 319.67 L 310.84 318.70 L 311.04 317.72 L 311.24 316.75 L 311.44 315.77 L 311.65 314.80 L 311.85 313.82 L 312.07 312.85 L 312.28 311.88 L 312.50 310.91 L 312.72 309.94 L 312.94 308.97 L 313.17 308.00 L 313.40 307.03 L 313.63 306.06 L 313.87 305.10 L 314.11 304.13 L 314.35 303.17 L 314.60 302.20 L 314.85 301.24 L 315.10 300.28 L 315.35 299.32 L 315.61 298.36 L 315.87 297.40 L 316.14 296.44 L 316.40 295.48 L 316.67 294.52 L 316.95 293.57 L 317.22 292.61 L 317.50 291.66 L 317.78 290.71 L 318.07 289.76 L 318.36 288.81 L 318.65 287.86 L 318.95 286.91 L 319.24 285.96 L 319.54 285.02 L 319.85 284.07 L 320.16 283.13 L 320.47 282.18 L 320.78 281.24 L 321.10 280.30 L 321.41 279.36 L 321.74 278.42 L 322.06 277.49 L 322.39 276.55 L 322.72 275.62 L 323.06 274.68 L 323.39 273.75 L 323.74 272.82 L 324.08 271.89 L 324.43 270.96 L 324.78 270.03 L 325.13 269.11 L 325.48 268.18 L 325.84 267.26 L 326.21 266.34 L 326.57 265.42 L 326.94 264.50 L 327.31 263.58 L 327.68 262.67 L 328.06 261.75 L 328.44 260.84 L 328.82 259.93 L 329.21 259.01 L 329.60 258.11 L 329.99 257.20 L 330.39 256.29 L 330.79 255.39 L 331.19 254.48 L 331.59 253.58 L 332.00 252.68 L 332.41 251.78 L 332.82 250.89 L 333.24 249.99 L 333.66 249.10 L 334.08 248.20 L 334.51 247.31 L 334.94 246.42 L 335.37 245.53 L 335.80 244.65 L 336.24 243.76 L 336.68 242.88 L 337.13 242.00 L 337.57 241.12 L 338.02 240.24 L 338.47 239.37 L 338.93 238.49 L 339.39 237.62 L 339.85 236.75 L 340.32 235.88 L 340.78 235.01 L 341.25 234.15 L 341.73 233.28 L 342.20 232.42 L 342.68 231.56 L 343.17 230.70 L 343.65 229.85 L 344.14 228.99 L 344.63 228.14 L 345.13 227.29 L 345.63 226.44 L 346.13 225.59 L 346.63 224.75 L 347.14 223.90 L 347.65 223.06 L 348.16 222.22 L 348.68 221.38 L 349.19 220.55 L 349.72 219.71 L 350.24 218.88 L 350.77 218.05 L 351.30 217.23 L 351.83 216.40 L 352.37 215.58 L 352.91 214.76 L 353.45 213.94 L 354.00 213.12 L 354.54 212.30 L 355.09 211.49 L 355.65 210.68 L 356.21 209.87 L 356.77 209.06 L 357.33 208.26 L 357.90 207.46 L 358.47 206.66 L 359.04 205.86 L 359.61 205.06 L 360.19 204.27 L 360.77 203.48 L 361.36 202.69 L 361.94 201.90 L 362.53 201.12 L 363.13 200.34 L 363.72 199.56 L 364.32 198.78 L 364.92 198.00 L 365.53 197.23 L 366.13 196.46 L 366.74 195.69 L 367.36 194.92 L 367.97 194.16 L 368.59 193.40 L 369.22 192.64 L 369.84 191.88 L 370.47 191.13 L 371.10 190.38 L 371.73 189.63 L 372.37 188.88 L 373.01 188.14 L 373.65 187.40 L 374.30 186.66 L 374.95 185.92 L 375.60 185.19 L 376.25 184.45 L 376.91 183.73 L 377.57 183.00 L 378.24 182.27 L 378.90 181.55 L 379.57 180.83 L 380.24 180.12 L 380.92 179.40 L 381.60 178.69 L 382.28 177.98 L 382.96 177.28 L 383.65 176.58 L 384.34 175.88 L 385.03 175.18 L 385.72 174.48 L 386.42 173.79 L 387.12 173.10 L 387.83 172.41 L 388.54 171.73 L 389.25 171.05 L 389.96 170.37 L 390.67 169.70 L 391.39 169.02 L 392.11 168.35 L 392.84 167.69 L 393.57 167.02 L 394.30 166.36 L 395.03 165.70 L 395.77 165.05 L 396.51 164.39 L 397.25 163.74 L 397.99 163.10 L 398.74 162.45 L 399.49 161.81 L 400.24 161.17 L 401.00 160.54 L 401.76 159.90 L 402.52 159.27 L 403.29 158.65 L 404.05 158.02 L 404.83 157.40 L 405.60 156.79 L 406.38 156.17 L 407.16 155.56 L 407.94 154.95 L 408.72 154.35 L 409.51 153.75 L 410.30 153.15 L 411.10 152.55 L 411.89 151.96 L 412.69 151.37 L 413.49 150.78 L 414.30 150.20 L 415.11 149.62 L 415.92 149.04 L 416.73 148.47 L 417.55 147.90 L 418.37 147.33 L 419.19 146.77 L 420.02 146.21 L 420.84 145.65 L 421.68 145.10 L 422.51 144.55 L 423.35 144.00 L 424.19 143.46 L 425.03 142.91 L 425.87 142.38 L 426.72 141.84 L 427.57 141.31 L 428.43 140.79 L 429.28 140.26 L 430.14 139.74 L 431.01 139.22 L 431.87 138.71 L 432.74 138.20 L 433.61 137.69 L 434.48 137.19 L 435.36 136.69 L 436.24 136.19 L 437.12 135.70 L 438.01 135.21 L 438.90 134.73 L 439.79 134.24 L 440.68 133.76 L 441.58 133.29 L 442.48 132.82 L 443.38 132.35 L 444.28 131.89 L 445.19 131.42 L 446.10 130.97 L 447.02 130.51" stroke="#fff" stroke-width="2.5" fill="none" stroke-linejoin="round"/><path d="M 327.22 471.50 L 327.07 470.37 L 326.93 469.24 L 326.79 468.11 L 326.66 466.99 L 326.53 465.86 L 326.40 464.73 L 326.28 463.59 L 326.16 462.46 L 326.05 461.33 L 325.94 460.20 L 325.84 459.07 L 325.74 457.93 L 325.64 456.80 L 325.55 455.66 L 325.46 454.53 L 325.38 453.39 L 325.30 452.26 L 325.23 451.12 L 325.16 449.98 L 325.09 448.84 L 325.03 447.71 L 324.97 446.57 L 324.92 445.43 L 324.87 444.29 L 324.82 443.15 L 324.78 442.01 L 324.74 440.87 L 324.71 439.73 L 324.68 438.59 L 324.66 437.45 L 324.64 436.31 L 324.62 435.17 L 324.61 434.02 L 324.60 432.88 L 324.60 431.74 L 324.60 430.60 L 324.60 429.46 L 324.61 428.31 L 324.62 427.17 L 324.64 426.03 L 324.66 424.89 L 324.69 423.74 L 324.72 422.60 L 324.75 421.46 L 324.79 420.31 L 324.83 419.17 L 324.87 418.03 L 324.92 416.88 L 324.98 415.74 L 325.03 414.60 L 325.10 413.46 L 325.16 412.31 L 325.23 411.17 L 325.31 410.03 L 325.38 408.88 L 325.47 407.74 L 325.55 406.60 L 325.64 405.46 L 325.74 404.32 L 325.83 403.17 L 325.94 402.03 L 326.04 400.89 L 326.15 399.75 L 326.27 398.61 L 326.38 397.47 L 326.51 396.33 L 326.63 395.19 L 326.76 394.05 L 326.90 392.91 L 327.04 391.77 L 327.18 390.63 L 327.32 389.49 L 327.47 388.36 L 327.63 387.22 L 327.78 386.08 L 327.95 384.94 L 328.11 383.81 L 328.28 382.67 L 328.46 381.54 L 328.63 380.40 L 328.81 379.27 L 329.00 378.14 L 329.19 377.00 L 329.38 375.87 L 329.58 374.74 L 329.78 373.61 L 329.98 372.48 L 330.19 371.35 L 330.41 370.22 L 330.62 369.09 L 330.84 367.96 L 331.07 366.83 L 331.29 365.71 L 331.53 364.58 L 331.76 363.45 L 332.00 362.33 L 332.24 361.21 L 332.49 360.08 L 332.74 358.96 L 333.00 357.84 L 333.26 356.72 L 333.52 355.60 L 333.79 354.48 L 334.06 353.36 L 334.33 352.25 L 334.61 351.13 L 334.89 350.02 L 335.17 348.90 L 335.46 347.79 L 335.76 346.68 L 336.05 345.56 L 336.35 344.45 L 336.66 343.34 L 336.97 342.24 L 337.28 341.13 L 337.59 340.02 L 337.91 338.92 L 338.23 337.81 L 338.56 336.71 L 338.89 335.61 L 339.23 334.51 L 339.56 333.41 L 339.90 332.31 L 340.25 331.21 L 340.60 330.12 L 340.95 329.02 L 341.31 327.93 L 341.67 326.84 L 342.03 325.75 L 342.40 324.66 L 342.77 323.57 L 343.14 322.48 L 343.52 321.40 L 343.90 320.31 L 344.29 319.23 L 344.68 318.15 L 345.07 317.07 L 345.47 315.99 L 345.87 314.91 L 346.27 313.83 L 346.68 312.76 L 347.09 311.69 L 347.51 310.61 L 347.93 309.54 L 348.35 308.47 L 348.77 307.41 L 349.20 306.34 L 349.63 305.28 L 350.07 304.22 L 350.51 303.15 L 350.95 302.10 L 351.40 301.04 L 351.85 299.98 L 352.31 298.93 L 352.76 297.87 L 353.23 296.82 L 353.69 295.77 L 354.16 294.73 L 354.63 293.68 L 355.11 292.64 L 355.59 291.59 L 356.07 290.55 L 356.55 289.51 L 357.04 288.48 L 357.54 287.44 L 358.03 286.41 L 358.53 285.38 L 359.04 284.35 L 359.54 283.32 L 360.06 282.29 L 360.57 281.27 L 361.09 280.25 L 361.61 279.23 L 362.13 278.21 L 362.66 277.19 L 363.19 276.18 L 363.73 275.16 L 364.26 274.15 L 364.81 273.15 L 365.35 272.14 L 365.90 271.14 L 366.45 270.13 L 367.01 269.13 L 367.57 268.14 L 368.13 267.14 L 368.69 266.15 L 369.26 265.15 L 369.84 264.17 L 370.41 263.18 L 370.99 262.19 L 371.57 261.21 L 372.16 260.23 L 372.75 259.25 L 373.34 258.28 L 373.94 257.30 L 374.54 256.33 L 375.14 255.36 L 375.75 254.40 L 376.36 253.43 L 376.97 252.47 L 377.59 251.51 L 378.21 250.55 L 378.83 249.60 L 379.46 248.65 L 380.08 247.70 L 380.72 246.75 L 381.35 245.80 L 381.99 244.86 L 382.64 243.92 L 383.28 242.98 L 383.93 242.05 L 384.58 241.11 L 385.24 240.18 L 385.90 239.26 L 386.56 238.33 L 387.23 237.41 L 387.90 236.49 L 388.57 235.57 L 389.24 234.66 L 389.92 233.75 L 390.61 232.84 L 391.29 231.93 L 391.98 231.03 L 392.67 230.13 L 393.37 229.23 L 394.06 228.33 L 394.77 227.44 L 395.47 226.55 L 396.18 225.67 L 396.89 224.78 L 397.60 223.90 L 398.32 223.02 L 399.04 222.15 L 399.76 221.27 L 400.49 220.40 L 401.22 219.54 L 401.95 218.67 L 402.69 217.81 L 403.43 216.95 L 404.17 216.10 L 404.92 215.25 L 405.67 214.40 L 406.42 213.55 L 407.18 212.71 L 407.93 211.87 L 408.70 211.03 L 409.46 210.20 L 410.23 209.37 L 411.00 208.54 L 411.77 207.71 L 412.55 206.89 L 413.33 206.08 L 414.11 205.26 L 414.90 204.45 L 415.69 203.64 L 416.48 202.83 L 417.28 202.03 L 418.07 201.23 L 418.88 200.44 L 419.68 199.65 L 420.49 198.86 L 421.30 198.07 L 422.11 197.29 L 422.93 196.51 L 423.75 195.73 L 424.57 194.96 L 425.40 194.19 L 426.23 193.43 L 427.06 192.66 L 427.89 191.91 L 428.73 191.15 L 429.57 190.40 L 430.42 189.65 L 431.26 188.91 L 432.11 188.16 L 432.97 187.43 L 433.82 186.69 L 434.68 185.96 L 435.54 185.24 L 436.41 184.51 L 437.28 183.79 L 438.15 183.08 L 439.02 182.36 L 439.90 181.65 L 440.78 180.95 L 441.66 180.25 L 442.54 179.55 L 443.43 178.86 L 444.32 178.16 L 445.22 177.48 L 446.11 176.80 L 447.01 176.12 L 447.92 175.44 L 448.82 174.77 L 449.73 174.10 L 450.64 173.44 L 451.55 172.78 L 452.47 172.12 L 453.39 171.47 L 454.31 170.82 L 455.24 170.18 L 456.17 169.54 L 457.10 168.90 L 458.03 168.27 L 458.97 167.64 L 459.91 167.01 L 460.85 166.39 L 461.80 165.78 L 462.75 165.16 L 463.70 164.55 L 464.65 163.95 L 465.61 163.35 L 466.57 162.75 L 467.53 162.16 L 468.50 161.57 L 469.46 160.99 L 470.44 160.41 L 471.41 159.83 L 472.38 159.26 L 473.36 158.70 L 474.35 158.13 L 475.33 157.57 L 476.32 157.02 L 477.31 156.47 L 478.30 155.92 L 479.30 155.38 L 480.29 154.85 L 481.29 154.31 L 482.30 153.78 L 483.30 153.26 L 484.31 152.74 L 485.33 152.22 L 486.34 151.71 L 487.36 151.21 L 488.38 150.70 L 489.40 150.21 L 490.42 149.71 L 491.45 149.23 L 492.48 148.74 L 493.52 148.26 L 494.55 147.79 L 495.59 147.32 L 496.63 146.85 L 497.68 146.39 L 498.72 145.93 L 499.77 145.48 L 500.82 145.03 L 501.88 144.59 L 502.93 144.15 L 503.99 143.72 L 505.06 143.29 L 506.12 142.86 L 507.19 142.44 L 508.26 142.03 L 509.33 141.62 L 510.41 141.21 L 511.48 140.81 L 512.56 140.42 L 513.65 140.03 L 514.73 139.64 L 515.82 139.26 L 516.91 138.88 L 518.01 138.51 L 519.10 138.14 L 520.20 137.78 L 521.30 137.43 L 522.40 137.07 L 523.51 136.73 L 524.62 136.38 L 525.73 136.05 L 526.84 135.72 L 527.96 135.39 L 529.08 135.07 L 530.20 134.75 L 531.32 134.44 L 532.45 134.13 L 533.58 133.83 L 534.71 133.53 L 535.84 133.24 L 536.98 132.96 L 538.12 132.67 L 539.26 132.40 L 540.40 132.13 L 541.55 131.86 L 542.69 131.60 L 543.84 131.35 L 545.00 131.10 L 546.15 130.85 L 547.31 130.61 L 548.47 130.38 L 549.63 130.15 L 550.80 129.93 L 551.97 129.71 L 553.14 129.49 L 554.31 129.29 L 555.48 129.09 L 556.66 128.89 L 557.84 128.70 L 559.02 128.51" stroke="#fff" stroke-width="2.5" fill="none" stroke-linejoin="round"/><path d="M 328.82 471.53 L 328.72 470.19 L 328.62 468.85 L 328.52 467.52 L 328.44 466.18 L 328.36 464.85 L 328.28 463.52 L 328.22 462.19 L 328.16 460.86 L 328.11 459.53 L 328.06 458.20 L 328.02 456.88 L 327.99 455.55 L 327.96 454.23 L 327.94 452.91 L 327.93 451.59 L 327.92 450.27 L 327.92 448.95 L 327.93 447.63 L 327.94 446.32 L 327.96 445.00 L 327.99 443.69 L 328.02 442.38 L 328.06 441.07 L 328.11 439.76 L 328.16 438.45 L 328.22 437.15 L 328.28 435.84 L 328.35 434.54 L 328.43 433.24 L 328.51 431.94 L 328.60 430.64 L 328.70 429.34 L 328.80 428.05 L 328.91 426.75 L 329.03 425.46 L 329.15 424.17 L 329.28 422.88 L 329.41 421.59 L 329.55 420.30 L 329.70 419.02 L 329.85 417.73 L 330.01 416.45 L 330.17 415.17 L 330.34 413.89 L 330.52 412.62 L 330.71 411.34 L 330.89 410.07 L 331.09 408.80 L 331.29 407.53 L 331.50 406.26 L 331.71 404.99 L 331.93 403.73 L 332.16 402.46 L 332.39 401.20 L 332.63 399.94 L 332.87 398.68 L 333.12 397.43 L 333.37 396.17 L 333.63 394.92 L 333.90 393.67 L 334.17 392.42 L 334.45 391.17 L 334.74 389.93 L 335.03 388.68 L 335.32 387.44 L 335.62 386.20 L 335.93 384.97 L 336.24 383.73 L 336.56 382.50 L 336.89 381.26 L 337.22 380.03 L 337.55 378.81 L 337.90 377.58 L 338.24 376.36 L 338.60 375.13 L 338.95 373.91 L 339.32 372.70 L 339.69 371.48 L 340.06 370.27 L 340.44 369.05 L 340.83 367.84 L 341.22 366.64 L 341.62 365.43 L 342.02 364.23 L 342.43 363.03 L 342.84 361.83 L 343.26 360.63 L 343.69 359.44 L 344.12 358.24 L 344.55 357.05 L 344.99 355.86 L 345.44 354.68 L 345.89 353.49 L 346.35 352.31 L 346.81 351.13 L 347.28 349.96 L 347.75 348.78 L 348.23 347.61 L 348.71 346.44 L 349.20 345.27 L 349.69 344.10 L 350.19 342.94 L 350.70 341.78 L 351.21 340.62 L 351.72 339.47 L 352.24 338.31 L 352.76 337.16 L 353.29 336.01 L 353.83 334.86 L 354.37 333.72 L 354.91 332.58 L 355.46 331.44 L 356.02 330.30 L 356.58 329.17 L 357.14 328.04 L 357.71 326.91 L 358.29 325.78 L 358.87 324.66 L 359.45 323.53 L 360.04 322.41 L 360.64 321.30 L 361.24 320.18 L 361.84 319.07 L 362.45 317.96 L 363.06 316.86 L 363.68 315.75 L 364.31 314.65 L 364.93 313.55 L 365.57 312.46 L 366.20 311.36 L 366.85 310.27 L 367.49 309.19 L 368.15 308.10 L 368.80 307.02 L 369.46 305.94 L 370.13 304.86 L 370.80 303.79 L 371.48 302.72 L 372.16 301.65 L 372.84 300.58 L 373.53 299.52 L 374.22 298.46 L 374.92 297.40 L 375.62 296.35 L 376.33 295.30 L 377.04 294.25 L 377.76 293.20 L 378.48 292.16 L 379.21 291.12 L 379.93 290.08 L 380.67 289.05 L 381.41 288.02 L 382.15 286.99 L 382.90 285.97 L 383.65 284.94 L 384.40 283.92 L 385.16 282.91 L 385.93 281.89 L 386.70 280.88 L 387.47 279.88 L 388.25 278.87 L 389.03 277.87 L 389.81 276.87 L 390.60 275.88 L 391.40 274.89 L 392.20 273.90 L 393.00 272.91 L 393.80 271.93 L 394.62 270.95 L 395.43 269.97 L 396.25 269.00 L 397.07 268.03 L 397.90 267.07 L 398.73 266.10 L 399.57 265.14 L 400.40 264.18 L 401.25 263.23 L 402.09 262.28 L 402.95 261.33 L 403.80 260.39 L 404.66 259.45 L 405.52 258.51 L 406.39 257.58 L 407.26 256.65 L 408.13 255.72 L 409.01 254.80 L 409.89 253.88 L 410.78 252.96 L 411.67 252.04 L 412.56 251.13 L 413.46 250.23 L 414.36 249.32 L 415.27 248.42 L 416.18 247.53 L 417.09 246.63 L 418.00 245.74 L 418.92 244.86 L 419.85 243.97 L 420.77 243.09 L 421.70 242.22 L 422.64 241.35 L 423.58 240.48 L 424.52 239.61 L 425.46 238.75 L 426.41 237.89 L 427.36 237.03 L 428.32 236.18 L 429.28 235.33 L 430.24 234.49 L 431.20 233.65 L 432.17 232.81 L 433.14 231.97 L 434.12 231.14 L 435.10 230.31 L 436.08 229.49 L 437.06 228.67 L 438.05 227.85 L 439.05 227.04 L 440.04 226.23 L 441.04 225.42 L 442.04 224.62 L 443.04 223.82 L 444.05 223.02 L 445.06 222.23 L 446.08 221.44 L 447.09 220.66 L 448.11 219.87 L 449.14 219.10 L 450.16 218.32 L 451.19 217.55 L 452.23 216.78 L 453.26 216.02 L 454.30 215.26 L 455.34 214.50 L 456.38 213.75 L 457.43 213.00 L 458.48 212.25 L 459.53 211.51 L 460.59 210.77 L 461.65 210.03 L 462.71 209.30 L 463.77 208.58 L 464.84 207.85 L 465.91 207.13 L 466.98 206.41 L 468.05 205.70 L 469.13 204.99 L 470.21 204.28 L 471.30 203.58 L 472.38 202.88 L 473.47 202.19 L 474.56 201.49 L 475.65 200.81 L 476.75 200.12 L 477.85 199.44 L 478.95 198.76 L 480.05 198.09 L 481.16 197.42 L 482.26 196.75 L 483.37 196.09 L 484.49 195.43 L 485.60 194.78 L 486.72 194.13 L 487.84 193.48 L 488.96 192.83 L 490.09 192.19 L 491.22 191.56 L 492.34 190.93 L 493.48 190.30 L 494.61 189.67 L 495.75 189.05 L 496.88 188.43 L 498.02 187.82 L 499.17 187.21 L 500.31 186.60 L 501.46 186.00 L 502.61 185.40 L 503.76 184.80 L 504.91 184.21 L 506.07 183.62 L 507.22 183.04 L 508.38 182.46 L 509.54 181.88 L 510.71 181.31 L 511.87 180.74 L 513.04 180.18 L 514.21 179.62 L 515.38 179.06 L 516.55 178.50 L 517.73 177.95 L 518.90 177.41 L 520.08 176.87 L 521.26 176.33 L 522.44 175.79 L 523.62 175.26 L 524.81 174.74 L 526.00 174.21 L 527.18 173.69 L 528.37 173.18 L 529.57 172.67 L 530.76 172.16 L 531.96 171.66 L 533.15 171.16 L 534.35 170.66 L 535.55 170.17 L 536.75 169.68 L 537.95 169.20 L 539.16 168.71 L 540.36 168.24 L 541.57 167.77 L 542.78 167.30 L 543.99 166.83 L 545.20 166.37 L 546.41 165.91 L 547.63 165.46 L 548.84 165.01 L 550.06 164.57 L 551.28 164.12 L 552.50 163.69 L 553.72 163.25 L 554.94 162.82 L 556.17 162.40 L 557.39 161.98 L 558.62 161.56 L 559.84 161.15 L 561.07 160.74 L 562.30 160.33 L 563.53 159.93 L 564.76 159.53 L 565.99 159.14 L 567.23 158.75 L 568.46 158.36 L 569.70 157.98 L 570.93 157.60 L 572.17 157.23 L 573.41 156.86 L 574.65 156.49 L 575.89 156.13 L 577.13 155.77 L 578.37 155.42 L 579.61 155.07 L 580.86 154.72 L 582.10 154.38 L 583.35 154.04 L 584.59 153.71 L 585.84 153.38 L 587.09 153.05 L 588.34 152.73 L 589.59 152.42 L 590.84 152.10 L 592.09 151.79 L 593.34 151.49 L 594.59 151.19 L 595.84 150.89 L 597.09 150.60 L 598.35 150.31 L 599.60 150.02 L 600.85 149.74 L 602.11 149.47 L 603.37 149.19 L 604.62 148.92 L 605.88 148.66 L 607.13 148.40 L 608.39 148.14 L 609.65 147.89 L 610.91 147.65 L 612.17 147.40 L 613.42 147.16 L 614.68 146.93 L 615.94 146.70 L 617.20 146.47 L 618.46 146.25 L 619.72 146.03 L 620.98 145.81 L 622.24 145.60 L 623.50 145.40 L 624.76 145.19 L 626.02 145.00 L 627.29 144.80 L 628.55 144.61 L 629.81 144.43 L 631.07 144.25 L 632.33 144.07 L 633.59 143.90 L 634.85 143.73 L 636.11 143.56 L 637.38 143.40 L 638.64 143.25 L 639.90 143.10 L 641.16 142.95 L 642.42 142.81 L 643.68 142.67 L 644.94 142.53 L 646.20 142.40 L 647.46 142.28 L 648.72 142.16 L 649.98 142.04 L 651.24 141.92 L 652.50 141.82" stroke="#fff" stroke-width="2.5" fill="none" stroke-linejoin="round"/><path d="M 330.81 471.51 L 330.94 470.11 L 331.07 468.71 L 331.22 467.31 L 331.37 465.92 L 331.53 464.52 L 331.69 463.12 L 331.86 461.73 L 332.04 460.33 L 332.22 458.94 L 332.41 457.54 L 332.60 456.15 L 332.81 454.76 L 333.01 453.36 L 333.23 451.97 L 333.45 450.58 L 333.68 449.20 L 333.91 447.81 L 334.15 446.42 L 334.40 445.04 L 334.65 443.65 L 334.91 442.27 L 335.17 440.88 L 335.44 439.50 L 335.72 438.12 L 336.01 436.74 L 336.30 435.37 L 336.59 433.99 L 336.89 432.61 L 337.20 431.24 L 337.52 429.87 L 337.84 428.49 L 338.16 427.12 L 338.50 425.76 L 338.83 424.39 L 339.18 423.02 L 339.53 421.66 L 339.89 420.29 L 340.25 418.93 L 340.62 417.57 L 340.99 416.21 L 341.37 414.86 L 341.76 413.50 L 342.15 412.15 L 342.55 410.80 L 342.95 409.45 L 343.36 408.10 L 343.78 406.75 L 344.20 405.41 L 344.63 404.06 L 345.06 402.72 L 345.50 401.38 L 345.95 400.04 L 346.40 398.71 L 346.86 397.38 L 347.32 396.04 L 347.79 394.71 L 348.26 393.39 L 348.74 392.06 L 349.23 390.74 L 349.72 389.42 L 350.21 388.10 L 350.72 386.78 L 351.22 385.46 L 351.74 384.15 L 352.26 382.84 L 352.78 381.53 L 353.31 380.23 L 353.85 378.92 L 354.39 377.62 L 354.94 376.32 L 355.49 375.02 L 356.05 373.73 L 356.61 372.44 L 357.18 371.15 L 357.75 369.86 L 358.33 368.58 L 358.92 367.30 L 359.51 366.02 L 360.11 364.74 L 360.71 363.47 L 361.32 362.19 L 361.93 360.93 L 362.55 359.66 L 363.17 358.40 L 363.80 357.14 L 364.43 355.88 L 365.07 354.62 L 365.71 353.37 L 366.36 352.12 L 367.02 350.88 L 367.68 349.63 L 368.34 348.39 L 369.02 347.15 L 369.69 345.92 L 370.37 344.69 L 371.06 343.46 L 371.75 342.24 L 372.45 341.01 L 373.15 339.79 L 373.85 338.58 L 374.57 337.37 L 375.28 336.16 L 376.00 334.95 L 376.73 333.75 L 377.46 332.55 L 378.20 331.35 L 378.94 330.16 L 379.69 328.97 L 380.44 327.78 L 381.20 326.60 L 381.96 325.42 L 382.73 324.24 L 383.50 323.07 L 384.27 321.90 L 385.06 320.74 L 385.84 319.58 L 386.63 318.42 L 387.43 317.26 L 388.23 316.11 L 389.04 314.97 L 389.85 313.82 L 390.66 312.68 L 391.48 311.55 L 392.31 310.41 L 393.14 309.29 L 393.97 308.16 L 394.81 307.04 L 395.65 305.92 L 396.50 304.81 L 397.36 303.70 L 398.21 302.60 L 399.08 301.50 L 399.94 300.40 L 400.82 299.31 L 401.69 298.22 L 402.57 297.14 L 403.46 296.05 L 404.35 294.98 L 405.24 293.91 L 406.14 292.84 L 407.05 291.78 L 407.95 290.72 L 408.87 289.66 L 409.78 288.61 L 410.70 287.56 L 411.63 286.52 L 412.56 285.49 L 413.50 284.45 L 414.44 283.42 L 415.38 282.40 L 416.33 281.38 L 417.28 280.37 L 418.24 279.35 L 419.20 278.35 L 420.16 277.35 L 421.13 276.35 L 422.11 275.36 L 423.08 274.37 L 424.07 273.39 L 425.05 272.41 L 426.05 271.44 L 427.04 270.47 L 428.04 269.51 L 429.04 268.55 L 430.05 267.60 L 431.06 266.65 L 432.08 265.70 L 433.10 264.76 L 434.12 263.83 L 435.15 262.90 L 436.19 261.98 L 437.22 261.06 L 438.26 260.15 L 439.31 259.24 L 440.36 258.33 L 441.41 257.44 L 442.47 256.54 L 443.53 255.66 L 444.59 254.77 L 445.66 253.90 L 446.73 253.02 L 447.81 252.16 L 448.89 251.29 L 449.97 250.44 L 451.06 249.58 L 452.15 248.74 L 453.25 247.90 L 454.35 247.06 L 455.45 246.23 L 456.56 245.40 L 457.67 244.58 L 458.78 243.76 L 459.90 242.95 L 461.02 242.14 L 462.14 241.34 L 463.27 240.54 L 464.40 239.75 L 465.54 238.96 L 466.68 238.17 L 467.82 237.40 L 468.96 236.62 L 470.11 235.85 L 471.27 235.09 L 472.42 234.33 L 473.58 233.57 L 474.74 232.82 L 475.91 232.08 L 477.08 231.34 L 478.25 230.60 L 479.42 229.87 L 480.60 229.14 L 481.78 228.42 L 482.97 227.70 L 484.16 226.99 L 485.35 226.28 L 486.54 225.57 L 487.74 224.87 L 488.94 224.18 L 490.14 223.49 L 491.35 222.80 L 492.56 222.12 L 493.77 221.44 L 494.98 220.77 L 496.20 220.10 L 497.42 219.43 L 498.65 218.77 L 499.87 218.12 L 501.10 217.46 L 502.33 216.82 L 503.57 216.17 L 504.80 215.53 L 506.04 214.90 L 507.29 214.27 L 508.53 213.64 L 509.78 213.02 L 511.03 212.40 L 512.28 211.79 L 513.54 211.18 L 514.80 210.57 L 516.06 209.97 L 517.32 209.37 L 518.58 208.78 L 519.85 208.19 L 521.12 207.61 L 522.40 207.02 L 523.67 206.45 L 524.95 205.87 L 526.23 205.30 L 527.51 204.74 L 528.79 204.18 L 530.08 203.62 L 531.37 203.06 L 532.66 202.51 L 533.95 201.97 L 535.25 201.43 L 536.54 200.89 L 537.84 200.35 L 539.15 199.82 L 540.45 199.29 L 541.75 198.77 L 543.06 198.25 L 544.37 197.73 L 545.68 197.22 L 547.00 196.71 L 548.31 196.21 L 549.63 195.71 L 550.95 195.21 L 552.27 194.72 L 553.59 194.22 L 554.91 193.74 L 556.24 193.25 L 557.57 192.77 L 558.90 192.30 L 560.23 191.82 L 561.56 191.36 L 562.90 190.89 L 564.23 190.43 L 565.57 189.97 L 566.91 189.51 L 568.25 189.06 L 569.59 188.61 L 570.94 188.17 L 572.28 187.72 L 573.63 187.28 L 574.98 186.85 L 576.33 186.42 L 577.68 185.99 L 579.03 185.56 L 580.38 185.14 L 581.74 184.72 L 583.10 184.30 L 584.45 183.89 L 585.81 183.48 L 587.17 183.07 L 588.53 182.67 L 589.89 182.27 L 591.26 181.87 L 592.62 181.48 L 593.99 181.09 L 595.36 180.70 L 596.72 180.32 L 598.09 179.93 L 599.46 179.55 L 600.83 179.18 L 602.20 178.81 L 603.58 178.44 L 604.95 178.07 L 606.33 177.70 L 607.70 177.34 L 609.08 176.98 L 610.45 176.63 L 611.83 176.28 L 613.21 175.93 L 614.59 175.58 L 615.97 175.24 L 617.35 174.89 L 618.73 174.56 L 620.11 174.22 L 621.50 173.89 L 622.88 173.56 L 624.26 173.23 L 625.65 172.90 L 627.03 172.58 L 628.42 172.26 L 629.80 171.94 L 631.19 171.63 L 632.58 171.32 L 633.96 171.01 L 635.35 170.70 L 636.74 170.39 L 638.13 170.09 L 639.51 169.79 L 640.90 169.50 L 642.29 169.20 L 643.68 168.91 L 645.07 168.62 L 646.46 168.33 L 647.85 168.05 L 649.24 167.77 L 650.63 167.49 L 652.02 167.21 L 653.41 166.93 L 654.80 166.66 L 656.19 166.39 L 657.58 166.12 L 658.97 165.85 L 660.36 165.59 L 661.75 165.33 L 663.14 165.07 L 664.53 164.81 L 665.92 164.56 L 667.31 164.30 L 668.70 164.05 L 670.09 163.80 L 671.48 163.56 L 672.87 163.31 L 674.26 163.07 L 675.64 162.83 L 677.03 162.59 L 678.42 162.35 L 679.81 162.12 L 681.19 161.89 L 682.58 161.66 L 683.97 161.43 L 685.35 161.20 L 686.74 160.98 L 688.12 160.75 L 689.50 160.53 L 690.89 160.31 L 692.27 160.10 L 693.65 159.88 L 695.03 159.67 L 696.41 159.46 L 697.79 159.24 L 699.17 159.04 L 700.55 158.83 L 701.93 158.63 L 703.30 158.42 L 704.68 158.22 L 706.06 158.02 L 707.43 157.82 L 708.80 157.63 L 710.18 157.43 L 711.55 157.24 L 712.92 157.05 L 714.29 156.86 L 715.66 156.67 L 717.03 156.48 L 718.39 156.30 L 719.76 156.11 L 721.12 155.93 L 722.49 155.75 L 723.85 155.57 L 725.21 155.39 L 726.57 155.21 L 727.93 155.04 L 729.29 154.86 L 730.64 154.69 L 732.00 154.52" stroke="#fff" stroke-width="2.5" fill="none" stroke-linejoin="round"/><path d="M 332.41 471.52 L 332.86 470.05 L 333.33 468.58 L 333.80 467.12 L 334.28 465.66 L 334.76 464.20 L 335.25 462.74 L 335.75 461.29 L 336.25 459.84 L 336.76 458.39 L 337.28 456.94 L 337.80 455.50 L 338.32 454.06 L 338.86 452.63 L 339.40 451.19 L 339.94 449.76 L 340.50 448.33 L 341.05 446.91 L 341.62 445.48 L 342.19 444.06 L 342.77 442.65 L 343.35 441.23 L 343.94 439.82 L 344.53 438.42 L 345.13 437.01 L 345.74 435.61 L 346.35 434.21 L 346.97 432.82 L 347.60 431.43 L 348.23 430.04 L 348.86 428.65 L 349.51 427.27 L 350.15 425.89 L 350.81 424.51 L 351.47 423.14 L 352.14 421.77 L 352.81 420.41 L 353.49 419.04 L 354.17 417.69 L 354.86 416.33 L 355.55 414.98 L 356.26 413.63 L 356.96 412.28 L 357.68 410.94 L 358.40 409.60 L 359.12 408.27 L 359.85 406.94 L 360.59 405.61 L 361.33 404.29 L 362.08 402.96 L 362.83 401.65 L 363.59 400.33 L 364.35 399.03 L 365.12 397.72 L 365.90 396.42 L 366.68 395.12 L 367.47 393.83 L 368.26 392.54 L 369.06 391.25 L 369.87 389.97 L 370.68 388.69 L 371.49 387.41 L 372.31 386.14 L 373.14 384.87 L 373.97 383.61 L 374.81 382.35 L 375.65 381.10 L 376.50 379.85 L 377.35 378.60 L 378.21 377.36 L 379.08 376.12 L 379.95 374.88 L 380.82 373.65 L 381.71 372.43 L 382.59 371.20 L 383.49 369.99 L 384.38 368.77 L 385.29 367.56 L 386.19 366.36 L 387.11 365.16 L 388.03 363.96 L 388.95 362.77 L 389.88 361.58 L 390.82 360.40 L 391.76 359.22 L 392.70 358.05 L 393.65 356.88 L 394.61 355.71 L 395.57 354.55 L 396.54 353.39 L 397.51 352.24 L 398.49 351.09 L 399.47 349.95 L 400.46 348.81 L 401.45 347.68 L 402.45 346.55 L 403.45 345.43 L 404.46 344.31 L 405.47 343.20 L 406.49 342.09 L 407.51 340.98 L 408.54 339.88 L 409.57 338.78 L 410.61 337.69 L 411.65 336.61 L 412.70 335.52 L 413.75 334.45 L 414.81 333.37 L 415.87 332.31 L 416.94 331.24 L 418.01 330.18 L 419.08 329.13 L 420.16 328.08 L 421.25 327.03 L 422.34 325.99 L 423.43 324.95 L 424.53 323.92 L 425.63 322.89 L 426.74 321.87 L 427.85 320.85 L 428.97 319.84 L 430.09 318.83 L 431.21 317.82 L 432.34 316.82 L 433.47 315.82 L 434.61 314.83 L 435.75 313.84 L 436.90 312.86 L 438.05 311.88 L 439.20 310.91 L 440.36 309.94 L 441.52 308.97 L 442.68 308.01 L 443.85 307.05 L 445.03 306.10 L 446.20 305.15 L 447.38 304.20 L 448.57 303.26 L 449.76 302.33 L 450.95 301.40 L 452.15 300.47 L 453.34 299.55 L 454.55 298.63 L 455.75 297.71 L 456.97 296.80 L 458.18 295.90 L 459.40 294.99 L 460.62 294.10 L 461.84 293.20 L 463.07 292.31 L 464.30 291.43 L 465.54 290.55 L 466.77 289.67 L 468.01 288.80 L 469.26 287.93 L 470.51 287.07 L 471.76 286.21 L 473.01 285.35 L 474.27 284.50 L 475.53 283.65 L 476.79 282.81 L 478.06 281.97 L 479.33 281.13 L 480.60 280.30 L 481.87 279.47 L 483.15 278.65 L 484.43 277.83 L 485.71 277.01 L 487.00 276.20 L 488.29 275.39 L 489.58 274.59 L 490.88 273.79 L 492.17 272.99 L 493.47 272.20 L 494.78 271.42 L 496.08 270.63 L 497.39 269.85 L 498.70 269.08 L 500.01 268.30 L 501.33 267.54 L 502.64 266.77 L 503.96 266.01 L 505.29 265.26 L 506.61 264.50 L 507.94 263.76 L 509.27 263.01 L 510.60 262.27 L 511.93 261.53 L 513.27 260.80 L 514.60 260.07 L 515.94 259.35 L 517.28 258.62 L 518.63 257.91 L 519.97 257.19 L 521.32 256.48 L 522.67 255.77 L 524.02 255.07 L 525.38 254.37 L 526.73 253.68 L 528.09 252.99 L 529.45 252.30 L 530.81 251.61 L 532.17 250.93 L 533.54 250.26 L 534.90 249.58 L 536.27 248.91 L 537.64 248.25 L 539.01 247.59 L 540.39 246.93 L 541.76 246.27 L 543.14 245.62 L 544.52 244.97 L 545.90 244.33 L 547.28 243.69 L 548.67 243.05 L 550.05 242.42 L 551.44 241.79 L 552.83 241.16 L 554.22 240.54 L 555.61 239.92 L 557.01 239.30 L 558.40 238.69 L 559.80 238.08 L 561.20 237.48 L 562.60 236.87 L 564.00 236.28 L 565.41 235.68 L 566.81 235.09 L 568.22 234.50 L 569.63 233.91 L 571.04 233.33 L 572.45 232.75 L 573.86 232.18 L 575.28 231.61 L 576.69 231.04 L 578.11 230.48 L 579.53 229.91 L 580.95 229.36 L 582.37 228.80 L 583.80 228.25 L 585.22 227.70 L 586.65 227.16 L 588.07 226.61 L 589.50 226.07 L 590.93 225.54 L 592.36 225.01 L 593.80 224.48 L 595.23 223.95 L 596.66 223.43 L 598.10 222.91 L 599.54 222.39 L 600.98 221.88 L 602.42 221.37 L 603.86 220.86 L 605.30 220.36 L 606.75 219.86 L 608.19 219.36 L 609.64 218.87 L 611.08 218.38 L 612.53 217.89 L 613.98 217.40 L 615.43 216.92 L 616.89 216.44 L 618.34 215.96 L 619.79 215.49 L 621.25 215.02 L 622.70 214.55 L 624.16 214.09 L 625.62 213.63 L 627.08 213.17 L 628.54 212.71 L 630.00 212.26 L 631.46 211.81 L 632.93 211.37 L 634.39 210.92 L 635.86 210.48 L 637.32 210.04 L 638.79 209.61 L 640.26 209.17 L 641.73 208.75 L 643.20 208.32 L 644.67 207.90 L 646.14 207.47 L 647.61 207.06 L 649.09 206.64 L 650.56 206.23 L 652.04 205.82 L 653.51 205.41 L 654.99 205.01 L 656.47 204.60 L 657.95 204.21 L 659.43 203.81 L 660.91 203.42 L 662.39 203.03 L 663.87 202.64 L 665.35 202.25 L 666.83 201.87 L 668.32 201.49 L 669.80 201.11 L 671.28 200.74 L 672.77 200.36 L 674.26 199.99 L 675.74 199.63 L 677.23 199.26 L 678.72 198.90 L 680.21 198.54 L 681.69 198.18 L 683.18 197.83 L 684.67 197.48 L 686.17 197.13 L 687.66 196.78 L 689.15 196.44 L 690.64 196.10 L 692.13 195.76 L 693.63 195.42 L 695.12 195.09 L 696.61 194.75 L 698.11 194.42 L 699.60 194.10 L 701.10 193.77 L 702.60 193.45 L 704.09 193.13 L 705.59 192.81 L 707.09 192.50 L 708.58 192.18 L 710.08 191.87 L 711.58 191.56 L 713.08 191.26 L 714.58 190.95 L 716.07 190.65 L 717.57 190.35 L 719.07 190.06 L 720.57 189.76 L 722.07 189.47 L 723.57 189.18 L 725.07 188.89 L 726.57 188.61 L 728.07 188.32 L 729.58 188.04 L 731.08 187.76 L 732.58 187.49 L 734.08 187.21 L 735.58 186.94 L 737.08 186.67 L 738.58 186.40 L 740.09 186.13 L 741.59 185.87 L 743.09 185.61 L 744.59 185.35 L 746.09 185.09 L 747.60 184.83 L 749.10 184.58 L 750.60 184.33 L 752.10 184.08 L 753.61 183.83 L 755.11 183.58 L 756.61 183.34 L 758.11 183.10 L 759.61 182.86 L 761.12 182.62 L 762.62 182.39 L 764.12 182.15 L 765.62 181.92 L 767.12 181.69 L 768.62 181.46 L 770.13 181.23 L 771.63 181.01 L 773.13 180.79 L 774.63 180.57 L 776.13 180.35 L 777.63 180.13 L 779.13 179.92 L 780.63 179.70 L 782.13 179.49 L 783.63 179.28 L 785.13 179.07 L 786.63 178.87 L 788.12 178.66 L 789.62 178.46 L 791.12 178.26 L 792.62 178.06 L 794.12 177.86 L 795.61 177.67 L 797.11 177.47 L 798.60 177.28 L 800.10 177.09 L 801.60 176.90 L 803.09 176.71 L 804.58 176.53 L 806.08 176.34 L 807.57 176.16 L 809.06 175.98 L 810.56 175.80 L 812.05 175.62 L 813.54 175.45 L 815.03 175.27 L 816.52 175.10 L 818.01 174.93 L 819.50 174.76 L 820.99 174.59" stroke="#fff" stroke-width="2.5" fill="none" stroke-linejoin="round"/>
<path d="M 315.2 472 L 336.6 472 Q 337.9 472 337.9 473.3 L 337.9 475.8 Q 337.9 476.5 336.8 476.6 Q 326 477.8 315.1 476.6 Q 314 476.5 314 475.8 L 314 473.3 Q 314 472 315.2 472 Z" fill="#fff" stroke="#000" stroke-width="2.1"/><circle cx="334.5" cy="525.3" r="4.4" fill="#000"/><circle cx="336.4" cy="524.4" r="0.6" fill="#fff"/><circle cx="336.4" cy="526.5" r="0.6" fill="#fff"/>
<path d="M 462.7 129.5 C 454 123, 453 112, 458 106 C 465 97, 476 94, 485 94 C 498 94, 508 101, 509.5 110 C 510.5 115, 509 118, 506.4 119.2 Z" fill="#fff" stroke="none"/><path d="M 445.5 125.2 L 454.5 119.8 L 458.75 127.2 L 449.4 132.7 Z" fill="#fff" stroke="#000" stroke-width="1.7" stroke-linejoin="round"/><path d="M 462.7 129.5 C 454 123, 453 112, 458 106 C 465 97, 476 94, 485 94 C 498 94, 508 101, 509.5 110 C 510.5 115, 509 118, 506.4 119.2" fill="none" stroke="#000" stroke-width="2.1" stroke-linecap="round"/><path d="M 462.3 128.4 C 472 122, 490 117, 504 117 C 507 117, 507 118.5, 506.4 119.4 C 498 124, 480 130, 466 130.3 C 464 130.3, 463 130, 462.3 128.4 Z" fill="#fff" stroke="#000" stroke-width="2.0" stroke-linejoin="round"/><path d="M 577 134.3 C 571 129, 569.5 123, 570 118 C 572 108, 585 99, 599 98.6 C 612 98.6, 623 106, 624 116 C 624.3 119, 623 121.5, 620.7 123.8 Z" fill="#fff" stroke="none"/><path d="M 559 124.8 L 569.7 123.5 L 571.2 130.8 L 559.8 132.3 Z" fill="#fff" stroke="#000" stroke-width="1.7" stroke-linejoin="round"/><path d="M 577 134.3 C 571 129, 569.5 123, 570 118 C 572 108, 585 99, 599 98.6 C 612 98.6, 623 106, 624 116 C 624.3 119, 623 121.5, 620.7 123.8" fill="none" stroke="#000" stroke-width="2.1" stroke-linecap="round"/><path d="M 576.6 132 C 588 126, 604 122.5, 616 122 C 619 122, 621 123, 620.7 124.2 C 610 129, 592 133.8, 578 134.5 Z" fill="#fff" stroke="#000" stroke-width="2.0" stroke-linejoin="round"/><path d="M 677.3 144.6 C 671.5 139, 670 132, 671 127 C 673.5 117, 686 111.5, 699 111.6 C 712 111.8, 723 119, 724 128 C 724.4 133, 723.5 136.5, 721.2 139.2 Z" fill="#fff" stroke="none"/><path d="M 652.4 134.4 L 670.8 132.4 L 672.3 140.3 L 653.2 142.3 Z" fill="#fff" stroke="#000" stroke-width="1.7" stroke-linejoin="round"/><path d="M 677.3 144.6 C 671.5 139, 670 132, 671 127 C 673.5 117, 686 111.5, 699 111.6 C 712 111.8, 723 119, 724 128 C 724.4 133, 723.5 136.5, 721.2 139.2" fill="none" stroke="#000" stroke-width="2.1" stroke-linecap="round"/><path d="M 676.3 142.3 C 687 138.5, 705 137, 720.8 138.4 C 722 138.8, 722 139.5, 721.2 139.7 C 712 143.5, 695 145.8, 678 145 Z" fill="#fff" stroke="#000" stroke-width="2.0" stroke-linejoin="round"/><path d="M 748.6 160.8 C 745 156, 744.5 150, 745.3 146 C 748 137, 760 131, 773.4 131.2 C 787 131.5, 798 140, 799 150 C 799.3 156, 797.5 160.5, 793.6 163.6 Z" fill="#fff" stroke="none"/><path d="M 731.8 150.6 L 744.7 148.9 L 745.5 156.4 L 732.6 158 Z" fill="#fff" stroke="#000" stroke-width="1.7" stroke-linejoin="round"/><path d="M 748.6 160.8 C 745 156, 744.5 150, 745.3 146 C 748 137, 760 131, 773.4 131.2 C 787 131.5, 798 140, 799 150 C 799.3 156, 797.5 160.5, 793.6 163.6" fill="none" stroke="#000" stroke-width="2.1" stroke-linecap="round"/><path d="M 748.4 159.2 C 758 157.2, 778 156.8, 793 161.8 C 794 162.5, 794 163.8, 793.4 164.2 C 782 166, 760 165.5, 750.5 162.3 C 749 161.7, 748.3 160.8, 748.4 159.2 Z" fill="#fff" stroke="#000" stroke-width="2.0" stroke-linejoin="round"/><path d="M 836.8 185 C 833.5 180, 833 174, 834 169.5 C 838 161, 848 157.5, 857 157.9 C 872 158.5, 886 167, 887.5 178 C 888 184, 885.5 188.5, 880.9 191.3 Z" fill="#fff" stroke="none"/><path d="M 833.4 169.6 L 823.5 169.6 Q 820.9 169.6 820.9 172.2 L 820.9 176.4 Q 820.9 179 823.5 179 L 833.4 179 Z" fill="#fff" stroke="#000" stroke-width="1.7" stroke-linejoin="round"/><path d="M 836.8 185 C 833.5 180, 833 174, 834 169.5 C 838 161, 848 157.5, 857 157.9 C 872 158.5, 886 167, 887.5 178 C 888 184, 885.5 188.5, 880.9 191.3" fill="none" stroke="#000" stroke-width="2.1" stroke-linecap="round"/><path d="M 836.6 183.4 C 848 182.5, 868 185, 880.3 189.9 C 881.2 190.4, 881.2 191.3, 880.7 191.6 C 868 193, 850 190.5, 839.5 187.2 C 838 186.6, 837 185.4, 836.6 183.4 Z" fill="#fff" stroke="#000" stroke-width="2.0" stroke-linejoin="round"/>
</svg>
</body></html>
